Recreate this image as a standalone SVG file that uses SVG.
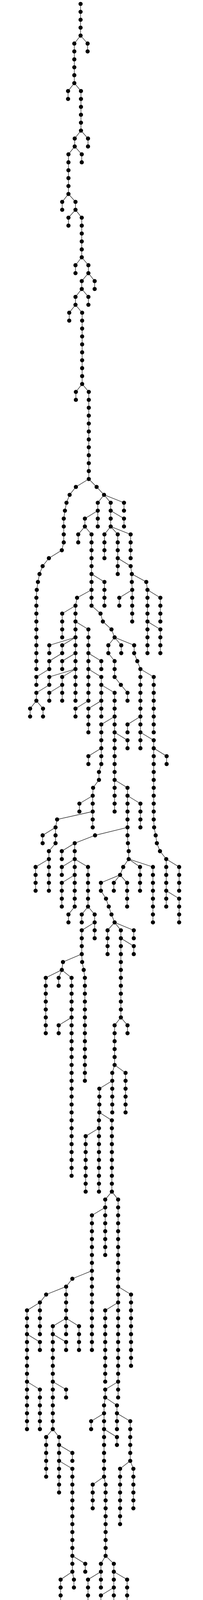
<svg xmlns="http://www.w3.org/2000/svg" width="519" height="6100" viewBox="0 0 519 6100">
<style>
polyline{fill:none;stroke:#222;stroke-width:1.3}
circle{fill:#000}
</style>
<rect width="519" height="6100" fill="#fff"/>
<g id="connectors">
<polyline points="206,10 206,30.3 206,50.5 206,70.8 206,91.1"/>
<polyline points="206,91.1 224,111.4 224,131.6"/>
<polyline points="206,91.1 190,111.4 190,131.6 190,151.9 190,172.2 190,192.4 190,212.7"/>
<polyline points="190,212.7 174,233 174,253.2"/>
<polyline points="190,212.7 207,233 207,253.2 207,273.5 207,293.8 207,314.1 207,334.3"/>
<polyline points="207,334.3 225,354.6 225,374.9"/>
<polyline points="207,334.3 191,354.6 191,374.9"/>
<polyline points="191,374.9 209,395.1 209,415.4"/>
<polyline points="191,374.9 175,395.1 175,415.4 175,435.7 175,455.9 175,476.2 175,496.5"/>
<polyline points="175,496.5 159,516.8 159,537"/>
<polyline points="175,496.5 193,516.8 193,537"/>
<polyline points="193,537 175,557.3 175,577.6"/>
<polyline points="193,537 209,557.3 209,577.6 209,597.8 209,618.1 209,638.4 209,658.6"/>
<polyline points="209,658.6 193,678.9 193,699.2"/>
<polyline points="209,658.6 226,678.9 226,699.2"/>
<polyline points="226,699.2 242,719.5 242,739.7"/>
<polyline points="226,699.2 209,719.5 209,739.7"/>
<polyline points="209,739.7 226,760 226,780.3"/>
<polyline points="209,739.7 193,760 193,780.3"/>
<polyline points="193,780.3 177,800.5 177,820.8"/>
<polyline points="193,780.3 210,800.5 210,820.8 210,841.1 210,861.3 210,881.6 210,901.9 210,922.2 210,942.4 210,962.7 210,983"/>
<polyline points="210,983 194,1003.2 194,1023.5"/>
<polyline points="210,983 227,1003.2 227,1023.5 227,1043.8 227,1064 227,1084.3 227,1104.6 227,1124.9 227,1145.1 227,1165.4 227,1185.7 227,1205.9 227,1226.2"/>
<polyline points="227,1226.2 194,1246.5 178,1266.7 170,1287 166,1307.3 163,1327.6 163,1347.8 163,1368.1 163,1388.4 158,1408.6 125,1428.9 109,1449.2 101,1469.4 97,1489.7 94,1510 93,1530.3 93,1550.5 93,1570.8 93,1591.1 93,1611.3 93,1631.6 93,1651.9 93,1672.1 93,1692.4 93,1712.7"/>
<polyline points="227,1226.2 247,1246.5 266,1266.7"/>
<polyline points="266,1266.7 250,1287 250,1307.3"/>
<polyline points="250,1307.3 217,1327.6 217,1347.8"/>
<polyline points="217,1347.8 200,1368.1 200,1388.4"/>
<polyline points="217,1347.8 234,1368.1 234,1388.4 234,1408.6 234,1428.9 234,1449.2 234,1469.4 234,1489.7 234,1510"/>
<polyline points="234,1469.4 267,1489.7 267,1510 267,1530.3 267,1550.5"/>
<polyline points="234,1510 197,1530.3 193,1550.5 193,1570.8 193,1591.1 193,1611.3 193,1631.6 193,1651.9 193,1672.1 193,1692.4 193,1712.7 193,1733 193,1753.2 193,1773.5 193,1793.8"/>
<polyline points="234,1510 234,1530.3 234,1550.5 257,1570.8 263,1591.1 285,1611.3 293,1631.6"/>
<polyline points="250,1307.3 250,1327.6 250,1347.8"/>
<polyline points="266,1266.7 283,1287 283,1307.3"/>
<polyline points="283,1307.3 317,1327.6 317,1347.8"/>
<polyline points="283,1307.3 283,1327.6 283,1347.8"/>
<polyline points="283,1347.8 267,1368.1 267,1388.4 267,1408.6 267,1428.9"/>
<polyline points="283,1347.8 301,1368.1 301,1388.4 301,1408.6 301,1428.9 301,1449.2 301,1469.4"/>
<polyline points="283,1347.8 334,1368.1 334,1388.4 334,1408.6 334,1428.9"/>
<polyline points="301,1428.9 334,1449.2 337,1469.4"/>
<polyline points="337,1469.4 374,1489.7 377,1510"/>
<polyline points="377,1510 410,1530.3 410,1550.5 410,1570.8 410,1591.1"/>
<polyline points="377,1510 377,1530.3 377,1550.5 377,1570.8 377,1591.1 377,1611.3 377,1631.6 377,1651.9 377,1672.1"/>
<polyline points="377,1591.1 410,1611.3 410,1631.6 410,1651.9 410,1672.1"/>
<polyline points="337,1469.4 337,1489.7 338,1510"/>
<polyline points="338,1510 305,1530.3 305,1550.5"/>
<polyline points="338,1510 338,1530.3 338,1550.5 338,1570.8 338,1591.1"/>
<polyline points="266,1266.7 317,1287 317,1307.3"/>
<polyline points="193,1550.5 159,1570.8 159,1591.1 159,1611.3 159,1631.6"/>
<polyline points="193,1591.1 226,1611.3 226,1631.6 226,1651.9 226,1672.1 226,1692.4 226,1712.7 226,1733 226,1753.2 226,1773.5 226,1793.8"/>
<polyline points="193,1631.6 126,1651.9 126,1672.1"/>
<polyline points="193,1631.6 159,1651.9 159,1672.1"/>
<polyline points="159,1672.1 126,1692.4 126,1712.7"/>
<polyline points="126,1712.7 93,1733 93,1753.2"/>
<polyline points="193,1672.1 159,1692.4 159,1712.7"/>
<polyline points="193,1712.7 126,1733 126,1753.2"/>
<polyline points="126,1753.2 93,1773.5 93,1793.8"/>
<polyline points="93,1793.8 77,1814 77,1834.3"/>
<polyline points="93,1793.8 110,1814 110,1834.3"/>
<polyline points="193,1712.7 159,1733 159,1753.2 159,1773.5 159,1793.8"/>
<polyline points="159,1753.2 126,1773.5 126,1793.8"/>
<polyline points="226,1672.1 259,1692.4 259,1712.7"/>
<polyline points="226,1712.7 259,1733 259,1753.2 259,1773.5 259,1793.8 259,1814 259,1834.3"/>
<polyline points="259,1753.2 293,1773.5 293,1793.8 293,1814 293,1834.3 293,1854.6 293,1874.8 293,1895.1 293,1915.4 293,1935.7 293,1955.9 293,1976.2 293,1996.5 293,2016.7 293,2037 293,2057.3 293,2077.5"/>
<polyline points="259,1793.8 226,1814 226,1834.3 226,1854.6 226,1874.8"/>
<polyline points="226,1793.8 193,1814 193,1834.3"/>
<polyline points="293,1834.3 259,1854.6 259,1874.8 259,1895.1 259,1915.4 259,1935.7 259,1955.9 253,1976.2 253,1996.5 238,2016.7 237,2037 237,2057.3 237,2077.5 237,2097.8 237,2118.1"/>
<polyline points="259,1915.4 226,1935.7 226,1955.9"/>
<polyline points="293,1874.8 326,1895.1 326,1915.4"/>
<polyline points="293,1996.5 326,2016.7 326,2037 326,2057.3 326,2077.5 326,2097.8 326,2118.1 326,2138.4 327,2158.6 329,2178.9 329,2199.2"/>
<polyline points="293,1631.6 277,1651.9 277,1672.1 293,1692.4 293,1712.7 293,1733 309,1753.2 326,1773.5 326,1793.8"/>
<polyline points="293,1631.6 310,1651.9 310,1672.1"/>
<polyline points="293,1631.6 343,1651.9 343,1672.1 351,1692.4 359,1712.7"/>
<polyline points="359,1712.7 393,1733 393,1753.2 393,1773.5 393,1793.8 393,1814 393,1834.3 393,1854.6 393,1874.8"/>
<polyline points="359,1712.7 359,1733 359,1753.2 359,1773.5 359,1793.8 359,1814 359,1834.3 359,1854.6 359,1874.8 359,1895.1 359,1915.4"/>
<polyline points="359,1834.3 326,1854.6 326,1874.8"/>
<polyline points="359,1874.8 393,1895.1 393,1915.4 393,1935.7 393,1955.9 393,1976.2 393,1996.5 393,2016.7 393,2037 393,2057.3 393,2077.5 393,2097.8 394,2118.1 398,2138.4 401,2158.6 409,2178.9 425,2199.2 425,2219.4 425,2239.7 425,2260 425,2280.2 425,2300.5 425,2320.8"/>
<polyline points="393,1915.4 426,1935.7 426,1955.9"/>
<polyline points="237,2037 203,2057.3 203,2077.5"/>
<polyline points="237,2077.5 146,2097.8 142,2118.1"/>
<polyline points="142,2118.1 109,2138.4 109,2158.6"/>
<polyline points="142,2118.1 142,2138.4 142,2158.6 125,2178.9 125,2199.2"/>
<polyline points="125,2199.2 91,2219.4 91,2239.7 91,2260 91,2280.2"/>
<polyline points="125,2199.2 125,2219.4 125,2239.7 125,2260 125,2280.2"/>
<polyline points="326,2037 359,2057.3 359,2077.5 359,2097.8 359,2118.1"/>
<polyline points="326,2118.1 243,2138.4 191,2158.6"/>
<polyline points="191,2158.6 158,2178.9 158,2199.2"/>
<polyline points="191,2158.6 191,2178.9 191,2199.2"/>
<polyline points="191,2199.2 158,2219.4 158,2239.7"/>
<polyline points="191,2199.2 191,2219.4 191,2239.7 191,2260 191,2280.2 191,2300.5 191,2320.8 175,2341.1 175,2361.3"/>
<polyline points="191,2239.7 158,2260 158,2280.2 158,2300.5 158,2320.8"/>
<polyline points="191,2199.2 225,2219.4 225,2239.7 225,2260 225,2280.2 225,2300.5 225,2320.8"/>
<polyline points="225,2320.8 209,2341.1 209,2361.3"/>
<polyline points="225,2320.8 242,2341.1 242,2361.3 242,2381.6 242,2401.9"/>
<polyline points="242,2361.3 209,2381.6 209,2401.9 209,2422.1 209,2442.4 210,2462.7 214,2482.9 217,2503.2 217,2523.5 217,2543.8 217,2564 217,2584.3 217,2604.6 217,2624.8 217,2645.1 217,2665.4 217,2685.6 217,2705.9 217,2726.2 217,2746.5 217,2766.7"/>
<polyline points="209,2442.4 161,2462.7 158,2482.9"/>
<polyline points="158,2482.9 117,2503.2 117,2523.5 117,2543.8 117,2564 117,2584.3 117,2604.6 117,2624.8 117,2645.1"/>
<polyline points="158,2482.9 150,2503.2 150,2523.5"/>
<polyline points="158,2482.9 183,2503.2 183,2523.5 183,2543.8 183,2564 183,2584.3 183,2604.6 183,2624.8 183,2645.1 183,2665.4 183,2685.6 183,2705.9 183,2726.2 183,2746.5 183,2766.7 183,2787 183,2807.3 183,2827.5 183,2847.8 183,2868.1 183,2888.3 183,2908.6 183,2928.9 183,2949.2 183,2969.4 183,2989.7 183,3010"/>
<polyline points="183,2604.6 150,2624.8 150,2645.1"/>
<polyline points="329,2199.2 315,2219.4 307,2239.7"/>
<polyline points="307,2239.7 258,2260 258,2280.2 271,2300.5 278,2320.8 285,2341.1 293,2361.3"/>
<polyline points="293,2361.3 275,2381.6 275,2401.9 275,2422.1 275,2442.4"/>
<polyline points="293,2361.3 309,2381.6 309,2401.9 309,2422.1 309,2442.4 309,2462.7 309,2482.9 309,2503.2 309,2523.5 309,2543.8 309,2564 309,2584.3 309,2604.6"/>
<polyline points="309,2401.9 342,2422.1 342,2442.4"/>
<polyline points="293,2361.3 342,2381.6 342,2401.9"/>
<polyline points="307,2239.7 291,2260 291,2280.2"/>
<polyline points="307,2239.7 325,2260 325,2280.2 325,2300.5 325,2320.8"/>
<polyline points="329,2199.2 358,2219.4 358,2239.7 358,2260 358,2280.2"/>
<polyline points="329,2199.2 391,2219.4 391,2239.7 391,2260 391,2280.2 391,2300.5 391,2320.8 391,2341.1 391,2361.3"/>
<polyline points="425,2199.2 458,2219.4 458,2239.7 458,2260 458,2280.2"/>
<polyline points="425,2280.2 458,2300.5 458,2320.8 458,2341.1 458,2361.3"/>
<polyline points="309,2604.6 293,2624.8 293,2645.1 293,2665.4 293,2685.6 293,2705.9 293,2726.2"/>
<polyline points="309,2604.6 326,2624.8 326,2645.1"/>
<polyline points="293,2726.2 287,2746.5 287,2766.7 287,2787 287,2807.3 287,2827.5 287,2847.8"/>
<polyline points="293,2726.2 321,2746.5 321,2766.7 321,2787 321,2807.3 321,2827.5 321,2847.8"/>
<polyline points="287,2766.7 254,2787 254,2807.3 254,2827.5 254,2847.8 253,2868.1 253,2888.3 253,2908.6 253,2928.9 253,2949.2 253,2969.4 253,2989.7 253,3010 253,3030.2 253,3050.5"/>
<polyline points="254,2847.8 286,2868.1 286,2888.3 286,2908.6 286,2928.9 286,2949.2 286,2969.4 286,2989.7 286,3010 286,3030.2 286,3050.5"/>
<polyline points="253,2888.3 219,2908.6 219,2928.9 219,2949.2 219,2969.4 219,2989.7 219,3010 219,3030.2 219,3050.5"/>
<polyline points="286,3050.5 269,3070.8 269,3091 269,3111.3 269,3131.6 269,3151.9 269,3172.1 269,3192.4 269,3212.7"/>
<polyline points="286,3050.5 302,3070.8 302,3091 302,3111.3 302,3131.6 302,3151.9 302,3172.1 302,3192.4 302,3212.7 302,3232.9 302,3253.2 302,3273.5 302,3293.7 302,3314 302,3334.3 302,3354.6 302,3374.8 302,3395.1 302,3415.4 302,3435.6 302,3455.9 302,3476.2 302,3496.4 302,3516.7 302,3537 302,3557.3 302,3577.5"/>
<polyline points="269,3091 235,3111.3 235,3131.6 235,3151.9 235,3172.1 235,3192.4 235,3212.7 235,3232.9 235,3253.2 235,3273.5 235,3293.7 235,3314 235,3334.3 235,3354.6 235,3374.8 235,3395.1 235,3415.4 235,3435.6 235,3455.9"/>
<polyline points="235,3253.2 185,3273.5 169,3293.7 169,3314 169,3334.3 169,3354.6 169,3374.8 169,3395.1 169,3415.4"/>
<polyline points="169,3293.7 118,3314 102,3334.3 102,3354.6 102,3374.8 102,3395.1 102,3415.4"/>
<polyline points="102,3334.3 69,3354.6 69,3374.8 69,3395.1 69,3415.4 69,3435.6 69,3455.9 69,3476.2 69,3496.4 69,3516.7 69,3537 69,3557.3 69,3577.5 69,3597.8 69,3618.1 69,3638.3 69,3658.6"/>
<polyline points="69,3415.4 102,3435.6 102,3455.9"/>
<polyline points="69,3537 102,3557.3 102,3577.5 102,3597.8 102,3618.1 102,3638.3 102,3658.6"/>
<polyline points="169,3374.8 135,3395.1 135,3415.4 135,3435.6 135,3455.9 135,3476.2 135,3496.4 135,3516.7 135,3537 135,3557.3 135,3577.5 135,3597.8 135,3618.1 135,3638.3 135,3658.6"/>
<polyline points="135,3415.4 169,3435.6 169,3455.9"/>
<polyline points="135,3537 169,3557.3 169,3577.5"/>
<polyline points="169,3374.8 202,3395.1 202,3415.4 202,3435.6 202,3455.9"/>
<polyline points="302,3293.7 335,3314 335,3334.3 335,3354.6 335,3374.8 335,3395.1 335,3415.4 335,3435.6 335,3455.9 335,3476.2 335,3496.4"/>
<polyline points="302,3334.3 269,3354.6 269,3374.8 269,3395.1 269,3415.4 269,3435.6 269,3455.9 269,3476.2 269,3496.4 269,3516.7 269,3537"/>
<polyline points="135,3658.6 118,3678.9 118,3699.1 118,3719.4 118,3739.7 118,3760 118,3780.2"/>
<polyline points="135,3658.6 151,3678.9 151,3699.1 151,3719.4 151,3739.7 151,3760 151,3780.2 151,3800.5 151,3820.8"/>
<polyline points="151,3699.1 185,3719.4 185,3739.7"/>
<polyline points="151,3739.7 185,3760 185,3780.2 185,3800.5 185,3820.8 185,3841 185,3861.3 185,3881.6 185,3901.8 185,3922.1 185,3942.4 185,3962.7 185,3982.9 185,4003.2 185,4023.5"/>
<polyline points="185,3982.9 218,4003.2 218,4023.5"/>
<polyline points="185,4023.5 155,4043.7 155,4064 155,4084.3 155,4104.5 155,4124.8 155,4145.1"/>
<polyline points="155,4145.1 139,4165.4 139,4185.6 139,4205.9 139,4226.2 139,4246.4 139,4266.7"/>
<polyline points="155,4145.1 173,4165.4 173,4185.6"/>
<polyline points="185,4023.5 189,4043.7 189,4064"/>
<polyline points="302,3537 269,3557.3 269,3577.5"/>
<polyline points="269,3577.5 299,3597.8 299,3618.1 299,3638.3 299,3658.6"/>
<polyline points="269,3577.5 266,3597.8 266,3618.1 266,3638.3 266,3658.6 266,3678.9 266,3699.1 266,3719.4 266,3739.7 266,3760 266,3780.2 270,3800.5 270,3820.8 270,3841 270,3861.3 270,3881.6 270,3901.8 270,3922.1 270,3942.4 270,3962.7 270,3982.9"/>
<polyline points="266,3618.1 233,3638.3 233,3658.6"/>
<polyline points="266,3658.6 299,3678.9 299,3699.1"/>
<polyline points="266,3780.2 237,3800.5 237,3820.8 237,3841 237,3861.3"/>
<polyline points="299,3618.1 333,3638.3 333,3658.6 333,3678.9 333,3699.1 333,3719.4 333,3739.7"/>
<polyline points="333,3739.7 307,3760 307,3780.2 307,3800.5 307,3820.8 307,3841 307,3861.3 307,3881.6 307,3901.8"/>
<polyline points="333,3739.7 341,3760 341,3780.2 341,3800.5 341,3820.8 341,3841 341,3861.3"/>
<polyline points="270,3982.9 258,4003.2 258,4023.5 258,4043.7 258,4064"/>
<polyline points="258,4023.5 225,4043.7 225,4064 225,4084.3 225,4104.5 225,4124.8 225,4145.1 225,4165.4 225,4185.6 225,4205.9 225,4226.2 225,4246.4 225,4266.7"/>
<polyline points="270,3982.9 291,4003.2 291,4023.5 291,4043.7 291,4064 291,4084.3 291,4104.5 291,4124.8 291,4145.1 291,4165.4 291,4185.6 291,4205.9 291,4226.2 291,4246.4 291,4266.7 291,4287 291,4307.2"/>
<polyline points="291,4023.5 325,4043.7 325,4064 325,4084.3 325,4104.5 325,4124.8 325,4145.1"/>
<polyline points="291,4064 258,4084.3 258,4104.5"/>
<polyline points="291,4104.5 258,4124.8 258,4145.1"/>
<polyline points="291,4307.2 275,4327.5 275,4347.8"/>
<polyline points="291,4307.2 309,4327.5 309,4347.8"/>
<polyline points="275,4347.8 259,4368.1 259,4388.3"/>
<polyline points="275,4347.8 297,4368.1 301,4388.3 310,4408.6 310,4428.9 310,4449.1 310,4469.4"/>
<polyline points="259,4388.3 210,4408.6 210,4428.9 210,4449.1 210,4469.4 210,4489.7 210,4509.9"/>
<polyline points="259,4388.3 243,4408.6 243,4428.9"/>
<polyline points="259,4388.3 277,4408.6 277,4428.9 277,4449.1 277,4469.4 277,4489.7 277,4509.9 277,4530.2 277,4550.5 277,4570.8 277,4591 277,4611.3 277,4631.6"/>
<polyline points="210,4509.9 202,4530.2 202,4550.5"/>
<polyline points="210,4509.9 235,4530.2 235,4550.5"/>
<polyline points="202,4550.5 194,4570.8 194,4591 194,4611.3 194,4631.6 194,4651.8 194,4672.1"/>
<polyline points="202,4550.5 227,4570.8 227,4591"/>
<polyline points="194,4672.1 178,4692.4 178,4712.6"/>
<polyline points="194,4672.1 211,4692.4 211,4712.6"/>
<polyline points="211,4712.6 194,4732.9 194,4753.2"/>
<polyline points="211,4712.6 227,4732.9 227,4753.2"/>
<polyline points="227,4753.2 210,4773.5 210,4793.7 210,4814 210,4834.3 210,4854.5 210,4874.8 210,4895.1 210,4915.3 210,4935.6 210,4955.9"/>
<polyline points="227,4753.2 243,4773.5 243,4793.7 243,4814 243,4834.3 243,4854.5 243,4874.8 243,4895.1 243,4915.3 243,4935.6 243,4955.9 243,4976.2 243,4996.4 243,5016.7 243,5037 243,5057.2 243,5077.5"/>
<polyline points="210,4793.7 177,4814 177,4834.3"/>
<polyline points="210,4915.3 177,4935.6 177,4955.9 177,4976.2 177,4996.4 177,5016.7 177,5037 177,5057.2 177,5077.5 177,5097.8 177,5118 177,5138.3 177,5158.6"/>
<polyline points="243,4793.7 277,4814 277,4834.3 277,4854.5 277,4874.8 277,4895.1 277,4915.3 277,4935.6 277,4955.9"/>
<polyline points="243,4955.9 277,4976.2 277,4996.4 277,5016.7 277,5037 277,5057.2 277,5077.5 277,5097.8 277,5118 277,5138.3 277,5158.6 277,5178.9 277,5199.1"/>
<polyline points="243,4996.4 210,5016.7 210,5037"/>
<polyline points="277,5037 334,5057.2 340,5077.5 353,5097.8 359,5118 359,5138.3 359,5158.6 359,5178.9 359,5199.1"/>
<polyline points="177,4955.9 143,4976.2 143,4996.4 143,5016.7 143,5037 143,5057.2 143,5077.5"/>
<polyline points="143,4996.4 110,5016.7 110,5037 110,5057.2 110,5077.5 110,5097.8 110,5118 110,5138.3 110,5158.6 110,5178.9 110,5199.1 110,5219.4 110,5239.7 110,5259.9 110,5280.2 110,5300.5 110,5320.7 110,5341 110,5361.3 110,5381.6 110,5401.8"/>
<polyline points="110,5077.5 77,5097.8 77,5118 77,5138.3 77,5158.6 77,5178.9 77,5199.1"/>
<polyline points="77,5118 43,5138.3 43,5158.6 43,5178.9 43,5199.1 43,5219.4 43,5239.7 43,5259.9 43,5280.2"/>
<polyline points="177,5077.5 210,5097.8 210,5118 210,5138.3 210,5158.6 210,5178.9 210,5199.1 210,5219.4 210,5239.7"/>
<polyline points="177,5118 143,5138.3 143,5158.6 143,5178.9 143,5199.1 143,5219.4 143,5239.7 143,5259.9 143,5280.2 143,5300.5 143,5320.7 143,5341 143,5361.3 143,5381.6 143,5401.8 102,5422.1 102,5442.4 101,5462.6 98,5482.9 93,5503.2 93,5523.4 93,5543.7 93,5564 93,5584.3 93,5604.5 93,5624.8 93,5645.1 93,5665.3 93,5685.6"/>
<polyline points="143,5280.2 177,5300.5 177,5320.7 177,5341 177,5361.3 226,5381.6 247,5401.8 247,5422.1 249,5442.4"/>
<polyline points="177,5320.7 210,5341 210,5361.3"/>
<polyline points="249,5442.4 226,5462.6 226,5482.9 226,5503.2 226,5523.4 226,5543.7 226,5564 226,5584.3 226,5604.5 226,5624.8 226,5645.1 226,5665.3 226,5685.6"/>
<polyline points="249,5442.4 259,5462.6 259,5482.9 259,5503.2 259,5523.4 259,5543.7 259,5564 259,5584.3 259,5604.5 259,5624.8 259,5645.1 259,5665.3 259,5685.6 259,5705.9 259,5726.1"/>
<polyline points="249,5442.4 293,5462.6 293,5482.9"/>
<polyline points="226,5523.4 193,5543.7 193,5564 193,5584.3 193,5604.5 193,5624.8 193,5645.1"/>
<polyline points="277,5118 243,5138.3 243,5158.6 243,5178.9 243,5199.1"/>
<polyline points="277,5158.6 310,5178.9 310,5199.1 310,5219.4 310,5239.7 310,5259.9 310,5280.2 310,5300.5 310,5320.7 310,5341 310,5361.3 310,5381.6 310,5401.8"/>
<polyline points="277,5199.1 243,5219.4 243,5239.7 243,5259.9 243,5280.2 243,5300.5 243,5320.7 243,5341 243,5361.3"/>
<polyline points="243,5320.7 277,5341 277,5361.3"/>
<polyline points="310,5199.1 277,5219.4 277,5239.7"/>
<polyline points="310,5320.7 343,5341 343,5361.3"/>
<polyline points="359,5118 394,5138.3 398,5158.6 406,5178.9 410,5199.1 410,5219.4 410,5239.7 410,5259.9 410,5280.2"/>
<polyline points="359,5199.1 343,5219.4 343,5239.7 343,5259.9 343,5280.2"/>
<polyline points="359,5199.1 377,5219.4 377,5239.7 377,5259.9 377,5280.2"/>
<polyline points="410,5239.7 443,5259.9 443,5280.2 443,5300.5 443,5320.7 443,5341 443,5361.3 443,5381.6 443,5401.8 443,5422.1 443,5442.4"/>
<polyline points="443,5442.4 410,5462.6 410,5482.9"/>
<polyline points="443,5442.4 443,5462.6 443,5482.9"/>
<polyline points="443,5442.4 477,5462.6 477,5482.9"/>
<polyline points="477,5482.9 459,5503.2 459,5523.4"/>
<polyline points="477,5482.9 493,5503.2 493,5523.4"/>
<polyline points="459,5523.4 442,5543.7 442,5564"/>
<polyline points="459,5523.4 475,5543.7 475,5564 475,5584.3 475,5604.5 475,5624.8 475,5645.1 475,5665.3 475,5685.6 475,5705.9 475,5726.1"/>
<polyline points="93,5564 59,5584.3 59,5604.5"/>
<polyline points="93,5604.5 43,5624.8 43,5645.1 43,5665.3 43,5685.6"/>
<polyline points="43,5645.1 10,5665.3 10,5685.6"/>
<polyline points="43,5685.6 26,5705.9 26,5726.1"/>
<polyline points="93,5685.6 59,5705.9 59,5726.1 59,5746.4 59,5766.7 59,5787 59,5807.2"/>
<polyline points="93,5685.6 93,5705.9 93,5726.1"/>
<polyline points="93,5685.6 126,5705.9 126,5726.1 126,5746.4 126,5766.7"/>
<polyline points="126,5726.1 93,5746.4 93,5766.7 93,5787 93,5807.2"/>
<polyline points="59,5807.2 43,5827.5 43,5847.8"/>
<polyline points="59,5807.2 77,5827.5 77,5847.8"/>
<polyline points="43,5847.8 27,5868 27,5888.3"/>
<polyline points="43,5847.8 61,5868 61,5888.3"/>
<polyline points="27,5888.3 11,5908.6 11,5928.8"/>
<polyline points="27,5888.3 45,5908.6 45,5928.8 45,5949.1 45,5969.4 45,5989.7 45,6009.9"/>
<polyline points="45,6009.9 29,6030.2 29,6050.5 29,6070.7 29,6091"/>
<polyline points="45,6009.9 62,6030.2 62,6050.5"/>
<polyline points="193,5564 159,5584.3 159,5604.5"/>
<polyline points="193,5604.5 159,5624.8 159,5645.1 159,5665.3 159,5685.6 159,5705.9 159,5726.1 159,5746.4 159,5766.7 159,5787 159,5807.2 159,5827.5 159,5847.8"/>
<polyline points="159,5645.1 193,5665.3 193,5685.6"/>
<polyline points="475,5564 442,5584.3 442,5604.5 442,5624.8 442,5645.1 442,5665.3 442,5685.6"/>
<polyline points="475,5564 509,5584.3 509,5604.5"/>
<polyline points="475,5604.5 509,5624.8 509,5645.1 509,5665.3 509,5685.6 509,5705.9 509,5726.1 509,5746.4 509,5766.7"/>
</g>
<g id="nodes">
<g id="n1"><circle cx="206" cy="10" r="5.3"/></g>
<g id="n2"><circle cx="206" cy="30.3" r="5.3"/></g>
<g id="n3"><circle cx="206" cy="50.5" r="5.3"/></g>
<g id="n4"><circle cx="206" cy="70.8" r="5.3"/></g>
<g id="n5"><circle cx="206" cy="91.1" r="5.3"/></g>
<g id="n6"><circle cx="224" cy="111.4" r="5.3"/></g>
<g id="n7"><circle cx="224" cy="131.6" r="5.3"/></g>
<g id="n8"><circle cx="190" cy="111.4" r="5.3"/></g>
<g id="n9"><circle cx="190" cy="131.6" r="5.3"/></g>
<g id="n10"><circle cx="190" cy="151.9" r="5.3"/></g>
<g id="n11"><circle cx="190" cy="172.2" r="5.3"/></g>
<g id="n12"><circle cx="190" cy="192.4" r="5.3"/></g>
<g id="n13"><circle cx="190" cy="212.7" r="5.3"/></g>
<g id="n14"><circle cx="174" cy="233" r="5.3"/></g>
<g id="n15"><circle cx="174" cy="253.2" r="5.3"/></g>
<g id="n16"><circle cx="207" cy="233" r="5.3"/></g>
<g id="n17"><circle cx="207" cy="253.2" r="5.3"/></g>
<g id="n18"><circle cx="207" cy="273.5" r="5.3"/></g>
<g id="n19"><circle cx="207" cy="293.8" r="5.3"/></g>
<g id="n20"><circle cx="207" cy="314.1" r="5.3"/></g>
<g id="n21"><circle cx="207" cy="334.3" r="5.3"/></g>
<g id="n22"><circle cx="225" cy="354.6" r="5.3"/></g>
<g id="n23"><circle cx="225" cy="374.9" r="5.3"/></g>
<g id="n24"><circle cx="191" cy="354.6" r="5.3"/></g>
<g id="n25"><circle cx="191" cy="374.9" r="5.3"/></g>
<g id="n26"><circle cx="209" cy="395.1" r="5.3"/></g>
<g id="n27"><circle cx="209" cy="415.4" r="5.3"/></g>
<g id="n28"><circle cx="175" cy="395.1" r="5.3"/></g>
<g id="n29"><circle cx="175" cy="415.4" r="5.3"/></g>
<g id="n30"><circle cx="175" cy="435.7" r="5.3"/></g>
<g id="n31"><circle cx="175" cy="455.9" r="5.3"/></g>
<g id="n32"><circle cx="175" cy="476.2" r="5.3"/></g>
<g id="n33"><circle cx="175" cy="496.5" r="5.3"/></g>
<g id="n34"><circle cx="159" cy="516.8" r="5.3"/></g>
<g id="n35"><circle cx="159" cy="537" r="5.3"/></g>
<g id="n36"><circle cx="193" cy="516.8" r="5.3"/></g>
<g id="n37"><circle cx="193" cy="537" r="5.3"/></g>
<g id="n38"><circle cx="175" cy="557.3" r="5.3"/></g>
<g id="n39"><circle cx="175" cy="577.6" r="5.3"/></g>
<g id="n40"><circle cx="209" cy="557.3" r="5.3"/></g>
<g id="n41"><circle cx="209" cy="577.6" r="5.3"/></g>
<g id="n42"><circle cx="209" cy="597.8" r="5.3"/></g>
<g id="n43"><circle cx="209" cy="618.1" r="5.3"/></g>
<g id="n44"><circle cx="209" cy="638.4" r="5.3"/></g>
<g id="n45"><circle cx="209" cy="658.6" r="5.3"/></g>
<g id="n46"><circle cx="193" cy="678.9" r="5.3"/></g>
<g id="n47"><circle cx="193" cy="699.2" r="5.3"/></g>
<g id="n48"><circle cx="226" cy="678.9" r="5.3"/></g>
<g id="n49"><circle cx="226" cy="699.2" r="5.3"/></g>
<g id="n50"><circle cx="242" cy="719.5" r="5.3"/></g>
<g id="n51"><circle cx="242" cy="739.7" r="5.3"/></g>
<g id="n52"><circle cx="209" cy="719.5" r="5.3"/></g>
<g id="n53"><circle cx="209" cy="739.7" r="5.3"/></g>
<g id="n54"><circle cx="226" cy="760" r="5.3"/></g>
<g id="n55"><circle cx="226" cy="780.3" r="5.3"/></g>
<g id="n56"><circle cx="193" cy="760" r="5.3"/></g>
<g id="n57"><circle cx="193" cy="780.3" r="5.3"/></g>
<g id="n58"><circle cx="177" cy="800.5" r="5.3"/></g>
<g id="n59"><circle cx="177" cy="820.8" r="5.3"/></g>
<g id="n60"><circle cx="210" cy="800.5" r="5.3"/></g>
<g id="n61"><circle cx="210" cy="820.8" r="5.3"/></g>
<g id="n62"><circle cx="210" cy="841.1" r="5.3"/></g>
<g id="n63"><circle cx="210" cy="861.3" r="5.3"/></g>
<g id="n64"><circle cx="210" cy="881.6" r="5.3"/></g>
<g id="n65"><circle cx="210" cy="901.9" r="5.3"/></g>
<g id="n66"><circle cx="210" cy="922.2" r="5.3"/></g>
<g id="n67"><circle cx="210" cy="942.4" r="5.3"/></g>
<g id="n68"><circle cx="210" cy="962.7" r="5.3"/></g>
<g id="n69"><circle cx="210" cy="983" r="5.3"/></g>
<g id="n70"><circle cx="194" cy="1003.2" r="5.3"/></g>
<g id="n71"><circle cx="194" cy="1023.5" r="5.3"/></g>
<g id="n72"><circle cx="227" cy="1003.2" r="5.3"/></g>
<g id="n73"><circle cx="227" cy="1023.5" r="5.3"/></g>
<g id="n74"><circle cx="227" cy="1043.8" r="5.3"/></g>
<g id="n75"><circle cx="227" cy="1064" r="5.3"/></g>
<g id="n76"><circle cx="227" cy="1084.3" r="5.3"/></g>
<g id="n77"><circle cx="227" cy="1104.6" r="5.3"/></g>
<g id="n78"><circle cx="227" cy="1124.9" r="5.3"/></g>
<g id="n79"><circle cx="227" cy="1145.1" r="5.3"/></g>
<g id="n80"><circle cx="227" cy="1165.4" r="5.3"/></g>
<g id="n81"><circle cx="227" cy="1185.7" r="5.3"/></g>
<g id="n82"><circle cx="227" cy="1205.9" r="5.3"/></g>
<g id="n83"><circle cx="227" cy="1226.2" r="5.3"/></g>
<g id="n84"><circle cx="194" cy="1246.5" r="5.3"/></g>
<g id="n85"><circle cx="178" cy="1266.7" r="5.3"/></g>
<g id="n86"><circle cx="170" cy="1287" r="5.3"/></g>
<g id="n87"><circle cx="166" cy="1307.3" r="5.3"/></g>
<g id="n88"><circle cx="163" cy="1327.6" r="5.3"/></g>
<g id="n89"><circle cx="163" cy="1347.8" r="5.3"/></g>
<g id="n90"><circle cx="163" cy="1368.1" r="5.3"/></g>
<g id="n91"><circle cx="163" cy="1388.4" r="5.3"/></g>
<g id="n92"><circle cx="158" cy="1408.6" r="5.3"/></g>
<g id="n93"><circle cx="125" cy="1428.9" r="5.3"/></g>
<g id="n94"><circle cx="109" cy="1449.2" r="5.3"/></g>
<g id="n95"><circle cx="101" cy="1469.4" r="5.3"/></g>
<g id="n96"><circle cx="97" cy="1489.7" r="5.3"/></g>
<g id="n97"><circle cx="94" cy="1510" r="5.3"/></g>
<g id="n98"><circle cx="93" cy="1530.3" r="5.3"/></g>
<g id="n99"><circle cx="93" cy="1550.5" r="5.3"/></g>
<g id="n100"><circle cx="93" cy="1570.8" r="5.3"/></g>
<g id="n101"><circle cx="93" cy="1591.1" r="5.3"/></g>
<g id="n102"><circle cx="93" cy="1611.3" r="5.3"/></g>
<g id="n103"><circle cx="93" cy="1631.6" r="5.3"/></g>
<g id="n104"><circle cx="93" cy="1651.9" r="5.3"/></g>
<g id="n105"><circle cx="93" cy="1672.1" r="5.3"/></g>
<g id="n106"><circle cx="93" cy="1692.4" r="5.3"/></g>
<g id="n107"><circle cx="93" cy="1712.7" r="5.3"/></g>
<g id="n108"><circle cx="247" cy="1246.5" r="5.3"/></g>
<g id="n109"><circle cx="266" cy="1266.7" r="5.3"/></g>
<g id="n110"><circle cx="250" cy="1287" r="5.3"/></g>
<g id="n111"><circle cx="250" cy="1307.3" r="5.3"/></g>
<g id="n112"><circle cx="217" cy="1327.6" r="5.3"/></g>
<g id="n113"><circle cx="217" cy="1347.8" r="5.3"/></g>
<g id="n114"><circle cx="200" cy="1368.1" r="5.3"/></g>
<g id="n115"><circle cx="200" cy="1388.4" r="5.3"/></g>
<g id="n116"><circle cx="234" cy="1368.1" r="5.3"/></g>
<g id="n117"><circle cx="234" cy="1388.4" r="5.3"/></g>
<g id="n118"><circle cx="234" cy="1408.6" r="5.3"/></g>
<g id="n119"><circle cx="234" cy="1428.9" r="5.3"/></g>
<g id="n120"><circle cx="234" cy="1449.2" r="5.3"/></g>
<g id="n121"><circle cx="234" cy="1469.4" r="5.3"/></g>
<g id="n122"><circle cx="234" cy="1489.7" r="5.3"/></g>
<g id="n123"><circle cx="234" cy="1510" r="5.3"/></g>
<g id="n124"><circle cx="267" cy="1489.7" r="5.3"/></g>
<g id="n125"><circle cx="267" cy="1510" r="5.3"/></g>
<g id="n126"><circle cx="267" cy="1530.3" r="5.3"/></g>
<g id="n127"><circle cx="267" cy="1550.5" r="5.3"/></g>
<g id="n128"><circle cx="197" cy="1530.3" r="5.3"/></g>
<g id="n129"><circle cx="193" cy="1550.5" r="5.3"/></g>
<g id="n130"><circle cx="193" cy="1570.8" r="5.3"/></g>
<g id="n131"><circle cx="193" cy="1591.1" r="5.3"/></g>
<g id="n132"><circle cx="193" cy="1611.3" r="5.3"/></g>
<g id="n133"><circle cx="193" cy="1631.6" r="5.3"/></g>
<g id="n134"><circle cx="193" cy="1651.9" r="5.3"/></g>
<g id="n135"><circle cx="193" cy="1672.1" r="5.3"/></g>
<g id="n136"><circle cx="193" cy="1692.4" r="5.3"/></g>
<g id="n137"><circle cx="193" cy="1712.7" r="5.3"/></g>
<g id="n138"><circle cx="193" cy="1733" r="5.3"/></g>
<g id="n139"><circle cx="193" cy="1753.2" r="5.3"/></g>
<g id="n140"><circle cx="193" cy="1773.5" r="5.3"/></g>
<g id="n141"><circle cx="193" cy="1793.8" r="5.3"/></g>
<g id="n142"><circle cx="234" cy="1530.3" r="5.3"/></g>
<g id="n143"><circle cx="234" cy="1550.5" r="5.3"/></g>
<g id="n144"><circle cx="257" cy="1570.8" r="5.3"/></g>
<g id="n145"><circle cx="263" cy="1591.1" r="5.3"/></g>
<g id="n146"><circle cx="285" cy="1611.3" r="5.3"/></g>
<g id="n147"><circle cx="293" cy="1631.6" r="5.3"/></g>
<g id="n148"><circle cx="250" cy="1327.6" r="5.3"/></g>
<g id="n149"><circle cx="250" cy="1347.8" r="5.3"/></g>
<g id="n150"><circle cx="283" cy="1287" r="5.3"/></g>
<g id="n151"><circle cx="283" cy="1307.3" r="5.3"/></g>
<g id="n152"><circle cx="317" cy="1327.6" r="5.3"/></g>
<g id="n153"><circle cx="317" cy="1347.8" r="5.3"/></g>
<g id="n154"><circle cx="283" cy="1327.6" r="5.3"/></g>
<g id="n155"><circle cx="283" cy="1347.8" r="5.3"/></g>
<g id="n156"><circle cx="267" cy="1368.1" r="5.3"/></g>
<g id="n157"><circle cx="267" cy="1388.4" r="5.3"/></g>
<g id="n158"><circle cx="267" cy="1408.6" r="5.3"/></g>
<g id="n159"><circle cx="267" cy="1428.9" r="5.3"/></g>
<g id="n160"><circle cx="301" cy="1368.1" r="5.3"/></g>
<g id="n161"><circle cx="301" cy="1388.4" r="5.3"/></g>
<g id="n162"><circle cx="301" cy="1408.6" r="5.3"/></g>
<g id="n163"><circle cx="301" cy="1428.9" r="5.3"/></g>
<g id="n164"><circle cx="301" cy="1449.2" r="5.3"/></g>
<g id="n165"><circle cx="301" cy="1469.4" r="5.3"/></g>
<g id="n166"><circle cx="334" cy="1368.1" r="5.3"/></g>
<g id="n167"><circle cx="334" cy="1388.4" r="5.3"/></g>
<g id="n168"><circle cx="334" cy="1408.6" r="5.3"/></g>
<g id="n169"><circle cx="334" cy="1428.9" r="5.3"/></g>
<g id="n170"><circle cx="334" cy="1449.2" r="5.3"/></g>
<g id="n171"><circle cx="337" cy="1469.4" r="5.3"/></g>
<g id="n172"><circle cx="374" cy="1489.7" r="5.3"/></g>
<g id="n173"><circle cx="377" cy="1510" r="5.3"/></g>
<g id="n174"><circle cx="410" cy="1530.3" r="5.3"/></g>
<g id="n175"><circle cx="410" cy="1550.5" r="5.3"/></g>
<g id="n176"><circle cx="410" cy="1570.8" r="5.3"/></g>
<g id="n177"><circle cx="410" cy="1591.1" r="5.3"/></g>
<g id="n178"><circle cx="377" cy="1530.3" r="5.3"/></g>
<g id="n179"><circle cx="377" cy="1550.5" r="5.3"/></g>
<g id="n180"><circle cx="377" cy="1570.8" r="5.3"/></g>
<g id="n181"><circle cx="377" cy="1591.1" r="5.3"/></g>
<g id="n182"><circle cx="377" cy="1611.3" r="5.3"/></g>
<g id="n183"><circle cx="377" cy="1631.6" r="5.3"/></g>
<g id="n184"><circle cx="377" cy="1651.9" r="5.3"/></g>
<g id="n185"><circle cx="377" cy="1672.1" r="5.3"/></g>
<g id="n186"><circle cx="410" cy="1611.3" r="5.3"/></g>
<g id="n187"><circle cx="410" cy="1631.6" r="5.3"/></g>
<g id="n188"><circle cx="410" cy="1651.9" r="5.3"/></g>
<g id="n189"><circle cx="410" cy="1672.1" r="5.3"/></g>
<g id="n190"><circle cx="337" cy="1489.7" r="5.3"/></g>
<g id="n191"><circle cx="338" cy="1510" r="5.3"/></g>
<g id="n192"><circle cx="305" cy="1530.3" r="5.3"/></g>
<g id="n193"><circle cx="305" cy="1550.5" r="5.3"/></g>
<g id="n194"><circle cx="338" cy="1530.3" r="5.3"/></g>
<g id="n195"><circle cx="338" cy="1550.5" r="5.3"/></g>
<g id="n196"><circle cx="338" cy="1570.8" r="5.3"/></g>
<g id="n197"><circle cx="338" cy="1591.1" r="5.3"/></g>
<g id="n198"><circle cx="317" cy="1287" r="5.3"/></g>
<g id="n199"><circle cx="317" cy="1307.3" r="5.3"/></g>
<g id="n200"><circle cx="159" cy="1570.8" r="5.3"/></g>
<g id="n201"><circle cx="159" cy="1591.1" r="5.3"/></g>
<g id="n202"><circle cx="159" cy="1611.3" r="5.3"/></g>
<g id="n203"><circle cx="159" cy="1631.6" r="5.3"/></g>
<g id="n204"><circle cx="226" cy="1611.3" r="5.3"/></g>
<g id="n205"><circle cx="226" cy="1631.6" r="5.3"/></g>
<g id="n206"><circle cx="226" cy="1651.9" r="5.3"/></g>
<g id="n207"><circle cx="226" cy="1672.1" r="5.3"/></g>
<g id="n208"><circle cx="226" cy="1692.4" r="5.3"/></g>
<g id="n209"><circle cx="226" cy="1712.7" r="5.3"/></g>
<g id="n210"><circle cx="226" cy="1733" r="5.3"/></g>
<g id="n211"><circle cx="226" cy="1753.2" r="5.3"/></g>
<g id="n212"><circle cx="226" cy="1773.5" r="5.3"/></g>
<g id="n213"><circle cx="226" cy="1793.8" r="5.3"/></g>
<g id="n214"><circle cx="126" cy="1651.9" r="5.3"/></g>
<g id="n215"><circle cx="126" cy="1672.1" r="5.3"/></g>
<g id="n216"><circle cx="159" cy="1651.9" r="5.3"/></g>
<g id="n217"><circle cx="159" cy="1672.1" r="5.3"/></g>
<g id="n218"><circle cx="126" cy="1692.4" r="5.3"/></g>
<g id="n219"><circle cx="126" cy="1712.7" r="5.3"/></g>
<g id="n220"><circle cx="93" cy="1733" r="5.3"/></g>
<g id="n221"><circle cx="93" cy="1753.2" r="5.3"/></g>
<g id="n222"><circle cx="159" cy="1692.4" r="5.3"/></g>
<g id="n223"><circle cx="159" cy="1712.7" r="5.3"/></g>
<g id="n224"><circle cx="126" cy="1733" r="5.3"/></g>
<g id="n225"><circle cx="126" cy="1753.2" r="5.3"/></g>
<g id="n226"><circle cx="93" cy="1773.5" r="5.3"/></g>
<g id="n227"><circle cx="93" cy="1793.8" r="5.3"/></g>
<g id="n228"><circle cx="77" cy="1814" r="5.3"/></g>
<g id="n229"><circle cx="77" cy="1834.3" r="5.3"/></g>
<g id="n230"><circle cx="110" cy="1814" r="5.3"/></g>
<g id="n231"><circle cx="110" cy="1834.3" r="5.3"/></g>
<g id="n232"><circle cx="159" cy="1733" r="5.3"/></g>
<g id="n233"><circle cx="159" cy="1753.2" r="5.3"/></g>
<g id="n234"><circle cx="159" cy="1773.5" r="5.3"/></g>
<g id="n235"><circle cx="159" cy="1793.8" r="5.3"/></g>
<g id="n236"><circle cx="126" cy="1773.5" r="5.3"/></g>
<g id="n237"><circle cx="126" cy="1793.8" r="5.3"/></g>
<g id="n238"><circle cx="259" cy="1692.4" r="5.3"/></g>
<g id="n239"><circle cx="259" cy="1712.7" r="5.3"/></g>
<g id="n240"><circle cx="259" cy="1733" r="5.3"/></g>
<g id="n241"><circle cx="259" cy="1753.2" r="5.3"/></g>
<g id="n242"><circle cx="259" cy="1773.5" r="5.3"/></g>
<g id="n243"><circle cx="259" cy="1793.8" r="5.3"/></g>
<g id="n244"><circle cx="259" cy="1814" r="5.3"/></g>
<g id="n245"><circle cx="259" cy="1834.3" r="5.3"/></g>
<g id="n246"><circle cx="293" cy="1773.5" r="5.3"/></g>
<g id="n247"><circle cx="293" cy="1793.8" r="5.3"/></g>
<g id="n248"><circle cx="293" cy="1814" r="5.3"/></g>
<g id="n249"><circle cx="293" cy="1834.3" r="5.3"/></g>
<g id="n250"><circle cx="293" cy="1854.6" r="5.3"/></g>
<g id="n251"><circle cx="293" cy="1874.8" r="5.3"/></g>
<g id="n252"><circle cx="293" cy="1895.1" r="5.3"/></g>
<g id="n253"><circle cx="293" cy="1915.4" r="5.3"/></g>
<g id="n254"><circle cx="293" cy="1935.7" r="5.3"/></g>
<g id="n255"><circle cx="293" cy="1955.9" r="5.3"/></g>
<g id="n256"><circle cx="293" cy="1976.2" r="5.3"/></g>
<g id="n257"><circle cx="293" cy="1996.5" r="5.3"/></g>
<g id="n258"><circle cx="293" cy="2016.7" r="5.3"/></g>
<g id="n259"><circle cx="293" cy="2037" r="5.3"/></g>
<g id="n260"><circle cx="293" cy="2057.3" r="5.3"/></g>
<g id="n261"><circle cx="293" cy="2077.5" r="5.3"/></g>
<g id="n262"><circle cx="226" cy="1814" r="5.3"/></g>
<g id="n263"><circle cx="226" cy="1834.3" r="5.3"/></g>
<g id="n264"><circle cx="226" cy="1854.6" r="5.3"/></g>
<g id="n265"><circle cx="226" cy="1874.8" r="5.3"/></g>
<g id="n266"><circle cx="193" cy="1814" r="5.3"/></g>
<g id="n267"><circle cx="193" cy="1834.3" r="5.3"/></g>
<g id="n268"><circle cx="259" cy="1854.6" r="5.3"/></g>
<g id="n269"><circle cx="259" cy="1874.8" r="5.3"/></g>
<g id="n270"><circle cx="259" cy="1895.1" r="5.3"/></g>
<g id="n271"><circle cx="259" cy="1915.4" r="5.3"/></g>
<g id="n272"><circle cx="259" cy="1935.7" r="5.3"/></g>
<g id="n273"><circle cx="259" cy="1955.9" r="5.3"/></g>
<g id="n274"><circle cx="253" cy="1976.2" r="5.3"/></g>
<g id="n275"><circle cx="253" cy="1996.5" r="5.3"/></g>
<g id="n276"><circle cx="238" cy="2016.7" r="5.3"/></g>
<g id="n277"><circle cx="237" cy="2037" r="5.3"/></g>
<g id="n278"><circle cx="237" cy="2057.3" r="5.3"/></g>
<g id="n279"><circle cx="237" cy="2077.5" r="5.3"/></g>
<g id="n280"><circle cx="237" cy="2097.8" r="5.3"/></g>
<g id="n281"><circle cx="237" cy="2118.1" r="5.3"/></g>
<g id="n282"><circle cx="226" cy="1935.7" r="5.3"/></g>
<g id="n283"><circle cx="226" cy="1955.9" r="5.3"/></g>
<g id="n284"><circle cx="326" cy="1895.1" r="5.3"/></g>
<g id="n285"><circle cx="326" cy="1915.4" r="5.3"/></g>
<g id="n286"><circle cx="326" cy="2016.7" r="5.3"/></g>
<g id="n287"><circle cx="326" cy="2037" r="5.3"/></g>
<g id="n288"><circle cx="326" cy="2057.3" r="5.3"/></g>
<g id="n289"><circle cx="326" cy="2077.5" r="5.3"/></g>
<g id="n290"><circle cx="326" cy="2097.8" r="5.3"/></g>
<g id="n291"><circle cx="326" cy="2118.1" r="5.3"/></g>
<g id="n292"><circle cx="326" cy="2138.4" r="5.3"/></g>
<g id="n293"><circle cx="327" cy="2158.6" r="5.3"/></g>
<g id="n294"><circle cx="329" cy="2178.9" r="5.3"/></g>
<g id="n295"><circle cx="329" cy="2199.2" r="5.3"/></g>
<g id="n296"><circle cx="277" cy="1651.9" r="5.3"/></g>
<g id="n297"><circle cx="277" cy="1672.1" r="5.3"/></g>
<g id="n298"><circle cx="293" cy="1692.4" r="5.3"/></g>
<g id="n299"><circle cx="293" cy="1712.7" r="5.3"/></g>
<g id="n300"><circle cx="293" cy="1733" r="5.3"/></g>
<g id="n301"><circle cx="309" cy="1753.2" r="5.3"/></g>
<g id="n302"><circle cx="326" cy="1773.5" r="5.3"/></g>
<g id="n303"><circle cx="326" cy="1793.8" r="5.3"/></g>
<g id="n304"><circle cx="310" cy="1651.9" r="5.3"/></g>
<g id="n305"><circle cx="310" cy="1672.1" r="5.3"/></g>
<g id="n306"><circle cx="343" cy="1651.9" r="5.3"/></g>
<g id="n307"><circle cx="343" cy="1672.1" r="5.3"/></g>
<g id="n308"><circle cx="351" cy="1692.4" r="5.3"/></g>
<g id="n309"><circle cx="359" cy="1712.7" r="5.3"/></g>
<g id="n310"><circle cx="393" cy="1733" r="5.3"/></g>
<g id="n311"><circle cx="393" cy="1753.2" r="5.3"/></g>
<g id="n312"><circle cx="393" cy="1773.5" r="5.3"/></g>
<g id="n313"><circle cx="393" cy="1793.8" r="5.3"/></g>
<g id="n314"><circle cx="393" cy="1814" r="5.3"/></g>
<g id="n315"><circle cx="393" cy="1834.3" r="5.3"/></g>
<g id="n316"><circle cx="393" cy="1854.6" r="5.3"/></g>
<g id="n317"><circle cx="393" cy="1874.8" r="5.3"/></g>
<g id="n318"><circle cx="359" cy="1733" r="5.3"/></g>
<g id="n319"><circle cx="359" cy="1753.2" r="5.3"/></g>
<g id="n320"><circle cx="359" cy="1773.5" r="5.3"/></g>
<g id="n321"><circle cx="359" cy="1793.8" r="5.3"/></g>
<g id="n322"><circle cx="359" cy="1814" r="5.3"/></g>
<g id="n323"><circle cx="359" cy="1834.3" r="5.3"/></g>
<g id="n324"><circle cx="359" cy="1854.6" r="5.3"/></g>
<g id="n325"><circle cx="359" cy="1874.8" r="5.3"/></g>
<g id="n326"><circle cx="359" cy="1895.1" r="5.3"/></g>
<g id="n327"><circle cx="359" cy="1915.4" r="5.3"/></g>
<g id="n328"><circle cx="326" cy="1854.6" r="5.3"/></g>
<g id="n329"><circle cx="326" cy="1874.8" r="5.3"/></g>
<g id="n330"><circle cx="393" cy="1895.1" r="5.3"/></g>
<g id="n331"><circle cx="393" cy="1915.4" r="5.3"/></g>
<g id="n332"><circle cx="393" cy="1935.7" r="5.3"/></g>
<g id="n333"><circle cx="393" cy="1955.9" r="5.3"/></g>
<g id="n334"><circle cx="393" cy="1976.2" r="5.3"/></g>
<g id="n335"><circle cx="393" cy="1996.5" r="5.3"/></g>
<g id="n336"><circle cx="393" cy="2016.7" r="5.3"/></g>
<g id="n337"><circle cx="393" cy="2037" r="5.3"/></g>
<g id="n338"><circle cx="393" cy="2057.3" r="5.3"/></g>
<g id="n339"><circle cx="393" cy="2077.5" r="5.3"/></g>
<g id="n340"><circle cx="393" cy="2097.8" r="5.3"/></g>
<g id="n341"><circle cx="394" cy="2118.1" r="5.3"/></g>
<g id="n342"><circle cx="398" cy="2138.4" r="5.3"/></g>
<g id="n343"><circle cx="401" cy="2158.6" r="5.3"/></g>
<g id="n344"><circle cx="409" cy="2178.9" r="5.3"/></g>
<g id="n345"><circle cx="425" cy="2199.2" r="5.3"/></g>
<g id="n346"><circle cx="425" cy="2219.4" r="5.3"/></g>
<g id="n347"><circle cx="425" cy="2239.7" r="5.3"/></g>
<g id="n348"><circle cx="425" cy="2260" r="5.3"/></g>
<g id="n349"><circle cx="425" cy="2280.2" r="5.3"/></g>
<g id="n350"><circle cx="425" cy="2300.5" r="5.3"/></g>
<g id="n351"><circle cx="425" cy="2320.8" r="5.3"/></g>
<g id="n352"><circle cx="426" cy="1935.7" r="5.3"/></g>
<g id="n353"><circle cx="426" cy="1955.9" r="5.3"/></g>
<g id="n354"><circle cx="203" cy="2057.3" r="5.3"/></g>
<g id="n355"><circle cx="203" cy="2077.5" r="5.3"/></g>
<g id="n356"><circle cx="146" cy="2097.8" r="5.3"/></g>
<g id="n357"><circle cx="142" cy="2118.1" r="5.3"/></g>
<g id="n358"><circle cx="109" cy="2138.4" r="5.3"/></g>
<g id="n359"><circle cx="109" cy="2158.6" r="5.3"/></g>
<g id="n360"><circle cx="142" cy="2138.4" r="5.3"/></g>
<g id="n361"><circle cx="142" cy="2158.6" r="5.3"/></g>
<g id="n362"><circle cx="125" cy="2178.9" r="5.3"/></g>
<g id="n363"><circle cx="125" cy="2199.2" r="5.3"/></g>
<g id="n364"><circle cx="91" cy="2219.4" r="5.3"/></g>
<g id="n365"><circle cx="91" cy="2239.7" r="5.3"/></g>
<g id="n366"><circle cx="91" cy="2260" r="5.3"/></g>
<g id="n367"><circle cx="91" cy="2280.2" r="5.3"/></g>
<g id="n368"><circle cx="125" cy="2219.4" r="5.3"/></g>
<g id="n369"><circle cx="125" cy="2239.7" r="5.3"/></g>
<g id="n370"><circle cx="125" cy="2260" r="5.3"/></g>
<g id="n371"><circle cx="125" cy="2280.2" r="5.3"/></g>
<g id="n372"><circle cx="359" cy="2057.3" r="5.3"/></g>
<g id="n373"><circle cx="359" cy="2077.5" r="5.3"/></g>
<g id="n374"><circle cx="359" cy="2097.8" r="5.3"/></g>
<g id="n375"><circle cx="359" cy="2118.1" r="5.3"/></g>
<g id="n376"><circle cx="243" cy="2138.4" r="5.3"/></g>
<g id="n377"><circle cx="191" cy="2158.6" r="5.3"/></g>
<g id="n378"><circle cx="158" cy="2178.9" r="5.3"/></g>
<g id="n379"><circle cx="158" cy="2199.2" r="5.3"/></g>
<g id="n380"><circle cx="191" cy="2178.9" r="5.3"/></g>
<g id="n381"><circle cx="191" cy="2199.2" r="5.3"/></g>
<g id="n382"><circle cx="158" cy="2219.4" r="5.3"/></g>
<g id="n383"><circle cx="158" cy="2239.7" r="5.3"/></g>
<g id="n384"><circle cx="191" cy="2219.4" r="5.3"/></g>
<g id="n385"><circle cx="191" cy="2239.7" r="5.3"/></g>
<g id="n386"><circle cx="191" cy="2260" r="5.3"/></g>
<g id="n387"><circle cx="191" cy="2280.2" r="5.3"/></g>
<g id="n388"><circle cx="191" cy="2300.5" r="5.3"/></g>
<g id="n389"><circle cx="191" cy="2320.8" r="5.3"/></g>
<g id="n390"><circle cx="175" cy="2341.1" r="5.3"/></g>
<g id="n391"><circle cx="175" cy="2361.3" r="5.3"/></g>
<g id="n392"><circle cx="158" cy="2260" r="5.3"/></g>
<g id="n393"><circle cx="158" cy="2280.2" r="5.3"/></g>
<g id="n394"><circle cx="158" cy="2300.5" r="5.3"/></g>
<g id="n395"><circle cx="158" cy="2320.8" r="5.3"/></g>
<g id="n396"><circle cx="225" cy="2219.4" r="5.3"/></g>
<g id="n397"><circle cx="225" cy="2239.7" r="5.3"/></g>
<g id="n398"><circle cx="225" cy="2260" r="5.3"/></g>
<g id="n399"><circle cx="225" cy="2280.2" r="5.3"/></g>
<g id="n400"><circle cx="225" cy="2300.5" r="5.3"/></g>
<g id="n401"><circle cx="225" cy="2320.8" r="5.3"/></g>
<g id="n402"><circle cx="209" cy="2341.1" r="5.3"/></g>
<g id="n403"><circle cx="209" cy="2361.3" r="5.3"/></g>
<g id="n404"><circle cx="242" cy="2341.1" r="5.3"/></g>
<g id="n405"><circle cx="242" cy="2361.3" r="5.3"/></g>
<g id="n406"><circle cx="242" cy="2381.6" r="5.3"/></g>
<g id="n407"><circle cx="242" cy="2401.9" r="5.3"/></g>
<g id="n408"><circle cx="209" cy="2381.6" r="5.3"/></g>
<g id="n409"><circle cx="209" cy="2401.9" r="5.3"/></g>
<g id="n410"><circle cx="209" cy="2422.1" r="5.3"/></g>
<g id="n411"><circle cx="209" cy="2442.4" r="5.3"/></g>
<g id="n412"><circle cx="210" cy="2462.7" r="5.3"/></g>
<g id="n413"><circle cx="214" cy="2482.9" r="5.3"/></g>
<g id="n414"><circle cx="217" cy="2503.2" r="5.3"/></g>
<g id="n415"><circle cx="217" cy="2523.5" r="5.3"/></g>
<g id="n416"><circle cx="217" cy="2543.8" r="5.3"/></g>
<g id="n417"><circle cx="217" cy="2564" r="5.3"/></g>
<g id="n418"><circle cx="217" cy="2584.3" r="5.3"/></g>
<g id="n419"><circle cx="217" cy="2604.6" r="5.3"/></g>
<g id="n420"><circle cx="217" cy="2624.8" r="5.3"/></g>
<g id="n421"><circle cx="217" cy="2645.1" r="5.3"/></g>
<g id="n422"><circle cx="217" cy="2665.4" r="5.3"/></g>
<g id="n423"><circle cx="217" cy="2685.6" r="5.3"/></g>
<g id="n424"><circle cx="217" cy="2705.9" r="5.3"/></g>
<g id="n425"><circle cx="217" cy="2726.2" r="5.3"/></g>
<g id="n426"><circle cx="217" cy="2746.5" r="5.3"/></g>
<g id="n427"><circle cx="217" cy="2766.7" r="5.3"/></g>
<g id="n428"><circle cx="161" cy="2462.7" r="5.3"/></g>
<g id="n429"><circle cx="158" cy="2482.9" r="5.3"/></g>
<g id="n430"><circle cx="117" cy="2503.2" r="5.3"/></g>
<g id="n431"><circle cx="117" cy="2523.5" r="5.3"/></g>
<g id="n432"><circle cx="117" cy="2543.8" r="5.3"/></g>
<g id="n433"><circle cx="117" cy="2564" r="5.3"/></g>
<g id="n434"><circle cx="117" cy="2584.3" r="5.3"/></g>
<g id="n435"><circle cx="117" cy="2604.6" r="5.3"/></g>
<g id="n436"><circle cx="117" cy="2624.8" r="5.3"/></g>
<g id="n437"><circle cx="117" cy="2645.1" r="5.3"/></g>
<g id="n438"><circle cx="150" cy="2503.2" r="5.3"/></g>
<g id="n439"><circle cx="150" cy="2523.5" r="5.3"/></g>
<g id="n440"><circle cx="183" cy="2503.2" r="5.3"/></g>
<g id="n441"><circle cx="183" cy="2523.5" r="5.3"/></g>
<g id="n442"><circle cx="183" cy="2543.8" r="5.3"/></g>
<g id="n443"><circle cx="183" cy="2564" r="5.3"/></g>
<g id="n444"><circle cx="183" cy="2584.3" r="5.3"/></g>
<g id="n445"><circle cx="183" cy="2604.6" r="5.3"/></g>
<g id="n446"><circle cx="183" cy="2624.8" r="5.3"/></g>
<g id="n447"><circle cx="183" cy="2645.1" r="5.3"/></g>
<g id="n448"><circle cx="183" cy="2665.4" r="5.3"/></g>
<g id="n449"><circle cx="183" cy="2685.6" r="5.3"/></g>
<g id="n450"><circle cx="183" cy="2705.9" r="5.3"/></g>
<g id="n451"><circle cx="183" cy="2726.2" r="5.3"/></g>
<g id="n452"><circle cx="183" cy="2746.5" r="5.3"/></g>
<g id="n453"><circle cx="183" cy="2766.7" r="5.3"/></g>
<g id="n454"><circle cx="183" cy="2787" r="5.3"/></g>
<g id="n455"><circle cx="183" cy="2807.3" r="5.3"/></g>
<g id="n456"><circle cx="183" cy="2827.5" r="5.3"/></g>
<g id="n457"><circle cx="183" cy="2847.8" r="5.3"/></g>
<g id="n458"><circle cx="183" cy="2868.1" r="5.3"/></g>
<g id="n459"><circle cx="183" cy="2888.3" r="5.3"/></g>
<g id="n460"><circle cx="183" cy="2908.6" r="5.3"/></g>
<g id="n461"><circle cx="183" cy="2928.9" r="5.3"/></g>
<g id="n462"><circle cx="183" cy="2949.2" r="5.3"/></g>
<g id="n463"><circle cx="183" cy="2969.4" r="5.3"/></g>
<g id="n464"><circle cx="183" cy="2989.7" r="5.3"/></g>
<g id="n465"><circle cx="183" cy="3010" r="5.3"/></g>
<g id="n466"><circle cx="150" cy="2624.8" r="5.3"/></g>
<g id="n467"><circle cx="150" cy="2645.1" r="5.3"/></g>
<g id="n468"><circle cx="315" cy="2219.4" r="5.3"/></g>
<g id="n469"><circle cx="307" cy="2239.7" r="5.3"/></g>
<g id="n470"><circle cx="258" cy="2260" r="5.3"/></g>
<g id="n471"><circle cx="258" cy="2280.2" r="5.3"/></g>
<g id="n472"><circle cx="271" cy="2300.5" r="5.3"/></g>
<g id="n473"><circle cx="278" cy="2320.8" r="5.3"/></g>
<g id="n474"><circle cx="285" cy="2341.1" r="5.3"/></g>
<g id="n475"><circle cx="293" cy="2361.3" r="5.3"/></g>
<g id="n476"><circle cx="275" cy="2381.6" r="5.3"/></g>
<g id="n477"><circle cx="275" cy="2401.9" r="5.3"/></g>
<g id="n478"><circle cx="275" cy="2422.1" r="5.3"/></g>
<g id="n479"><circle cx="275" cy="2442.4" r="5.3"/></g>
<g id="n480"><circle cx="309" cy="2381.6" r="5.3"/></g>
<g id="n481"><circle cx="309" cy="2401.9" r="5.3"/></g>
<g id="n482"><circle cx="309" cy="2422.1" r="5.3"/></g>
<g id="n483"><circle cx="309" cy="2442.4" r="5.3"/></g>
<g id="n484"><circle cx="309" cy="2462.7" r="5.3"/></g>
<g id="n485"><circle cx="309" cy="2482.9" r="5.3"/></g>
<g id="n486"><circle cx="309" cy="2503.2" r="5.3"/></g>
<g id="n487"><circle cx="309" cy="2523.5" r="5.3"/></g>
<g id="n488"><circle cx="309" cy="2543.8" r="5.3"/></g>
<g id="n489"><circle cx="309" cy="2564" r="5.3"/></g>
<g id="n490"><circle cx="309" cy="2584.3" r="5.3"/></g>
<g id="n491"><circle cx="309" cy="2604.6" r="5.3"/></g>
<g id="n492"><circle cx="342" cy="2422.1" r="5.3"/></g>
<g id="n493"><circle cx="342" cy="2442.4" r="5.3"/></g>
<g id="n494"><circle cx="342" cy="2381.6" r="5.3"/></g>
<g id="n495"><circle cx="342" cy="2401.9" r="5.3"/></g>
<g id="n496"><circle cx="291" cy="2260" r="5.3"/></g>
<g id="n497"><circle cx="291" cy="2280.2" r="5.3"/></g>
<g id="n498"><circle cx="325" cy="2260" r="5.3"/></g>
<g id="n499"><circle cx="325" cy="2280.2" r="5.3"/></g>
<g id="n500"><circle cx="325" cy="2300.5" r="5.3"/></g>
<g id="n501"><circle cx="325" cy="2320.8" r="5.3"/></g>
<g id="n502"><circle cx="358" cy="2219.4" r="5.3"/></g>
<g id="n503"><circle cx="358" cy="2239.7" r="5.3"/></g>
<g id="n504"><circle cx="358" cy="2260" r="5.3"/></g>
<g id="n505"><circle cx="358" cy="2280.2" r="5.3"/></g>
<g id="n506"><circle cx="391" cy="2219.4" r="5.3"/></g>
<g id="n507"><circle cx="391" cy="2239.7" r="5.3"/></g>
<g id="n508"><circle cx="391" cy="2260" r="5.3"/></g>
<g id="n509"><circle cx="391" cy="2280.2" r="5.3"/></g>
<g id="n510"><circle cx="391" cy="2300.5" r="5.3"/></g>
<g id="n511"><circle cx="391" cy="2320.8" r="5.3"/></g>
<g id="n512"><circle cx="391" cy="2341.1" r="5.3"/></g>
<g id="n513"><circle cx="391" cy="2361.3" r="5.3"/></g>
<g id="n514"><circle cx="458" cy="2219.4" r="5.3"/></g>
<g id="n515"><circle cx="458" cy="2239.7" r="5.3"/></g>
<g id="n516"><circle cx="458" cy="2260" r="5.3"/></g>
<g id="n517"><circle cx="458" cy="2280.2" r="5.3"/></g>
<g id="n518"><circle cx="458" cy="2300.5" r="5.3"/></g>
<g id="n519"><circle cx="458" cy="2320.8" r="5.3"/></g>
<g id="n520"><circle cx="458" cy="2341.1" r="5.3"/></g>
<g id="n521"><circle cx="458" cy="2361.3" r="5.3"/></g>
<g id="n522"><circle cx="293" cy="2624.8" r="5.3"/></g>
<g id="n523"><circle cx="293" cy="2645.1" r="5.3"/></g>
<g id="n524"><circle cx="293" cy="2665.4" r="5.3"/></g>
<g id="n525"><circle cx="293" cy="2685.6" r="5.3"/></g>
<g id="n526"><circle cx="293" cy="2705.9" r="5.3"/></g>
<g id="n527"><circle cx="293" cy="2726.2" r="5.3"/></g>
<g id="n528"><circle cx="326" cy="2624.8" r="5.3"/></g>
<g id="n529"><circle cx="326" cy="2645.1" r="5.3"/></g>
<g id="n530"><circle cx="287" cy="2746.5" r="5.3"/></g>
<g id="n531"><circle cx="287" cy="2766.7" r="5.3"/></g>
<g id="n532"><circle cx="287" cy="2787" r="5.3"/></g>
<g id="n533"><circle cx="287" cy="2807.3" r="5.3"/></g>
<g id="n534"><circle cx="287" cy="2827.5" r="5.3"/></g>
<g id="n535"><circle cx="287" cy="2847.8" r="5.3"/></g>
<g id="n536"><circle cx="321" cy="2746.5" r="5.3"/></g>
<g id="n537"><circle cx="321" cy="2766.7" r="5.3"/></g>
<g id="n538"><circle cx="321" cy="2787" r="5.3"/></g>
<g id="n539"><circle cx="321" cy="2807.3" r="5.3"/></g>
<g id="n540"><circle cx="321" cy="2827.5" r="5.3"/></g>
<g id="n541"><circle cx="321" cy="2847.8" r="5.3"/></g>
<g id="n542"><circle cx="254" cy="2787" r="5.3"/></g>
<g id="n543"><circle cx="254" cy="2807.3" r="5.3"/></g>
<g id="n544"><circle cx="254" cy="2827.5" r="5.3"/></g>
<g id="n545"><circle cx="254" cy="2847.8" r="5.3"/></g>
<g id="n546"><circle cx="253" cy="2868.1" r="5.3"/></g>
<g id="n547"><circle cx="253" cy="2888.3" r="5.3"/></g>
<g id="n548"><circle cx="253" cy="2908.6" r="5.3"/></g>
<g id="n549"><circle cx="253" cy="2928.9" r="5.3"/></g>
<g id="n550"><circle cx="253" cy="2949.2" r="5.3"/></g>
<g id="n551"><circle cx="253" cy="2969.4" r="5.3"/></g>
<g id="n552"><circle cx="253" cy="2989.7" r="5.3"/></g>
<g id="n553"><circle cx="253" cy="3010" r="5.3"/></g>
<g id="n554"><circle cx="253" cy="3030.2" r="5.3"/></g>
<g id="n555"><circle cx="253" cy="3050.5" r="5.3"/></g>
<g id="n556"><circle cx="286" cy="2868.1" r="5.3"/></g>
<g id="n557"><circle cx="286" cy="2888.3" r="5.3"/></g>
<g id="n558"><circle cx="286" cy="2908.6" r="5.3"/></g>
<g id="n559"><circle cx="286" cy="2928.9" r="5.3"/></g>
<g id="n560"><circle cx="286" cy="2949.2" r="5.3"/></g>
<g id="n561"><circle cx="286" cy="2969.4" r="5.3"/></g>
<g id="n562"><circle cx="286" cy="2989.7" r="5.3"/></g>
<g id="n563"><circle cx="286" cy="3010" r="5.3"/></g>
<g id="n564"><circle cx="286" cy="3030.2" r="5.3"/></g>
<g id="n565"><circle cx="286" cy="3050.5" r="5.3"/></g>
<g id="n566"><circle cx="219" cy="2908.6" r="5.3"/></g>
<g id="n567"><circle cx="219" cy="2928.9" r="5.3"/></g>
<g id="n568"><circle cx="219" cy="2949.2" r="5.3"/></g>
<g id="n569"><circle cx="219" cy="2969.4" r="5.3"/></g>
<g id="n570"><circle cx="219" cy="2989.7" r="5.3"/></g>
<g id="n571"><circle cx="219" cy="3010" r="5.3"/></g>
<g id="n572"><circle cx="219" cy="3030.2" r="5.3"/></g>
<g id="n573"><circle cx="219" cy="3050.5" r="5.3"/></g>
<g id="n574"><circle cx="269" cy="3070.8" r="5.3"/></g>
<g id="n575"><circle cx="269" cy="3091" r="5.3"/></g>
<g id="n576"><circle cx="269" cy="3111.3" r="5.3"/></g>
<g id="n577"><circle cx="269" cy="3131.6" r="5.3"/></g>
<g id="n578"><circle cx="269" cy="3151.9" r="5.3"/></g>
<g id="n579"><circle cx="269" cy="3172.1" r="5.3"/></g>
<g id="n580"><circle cx="269" cy="3192.4" r="5.3"/></g>
<g id="n581"><circle cx="269" cy="3212.7" r="5.3"/></g>
<g id="n582"><circle cx="302" cy="3070.8" r="5.3"/></g>
<g id="n583"><circle cx="302" cy="3091" r="5.3"/></g>
<g id="n584"><circle cx="302" cy="3111.3" r="5.3"/></g>
<g id="n585"><circle cx="302" cy="3131.6" r="5.3"/></g>
<g id="n586"><circle cx="302" cy="3151.9" r="5.3"/></g>
<g id="n587"><circle cx="302" cy="3172.1" r="5.3"/></g>
<g id="n588"><circle cx="302" cy="3192.4" r="5.3"/></g>
<g id="n589"><circle cx="302" cy="3212.7" r="5.3"/></g>
<g id="n590"><circle cx="302" cy="3232.9" r="5.3"/></g>
<g id="n591"><circle cx="302" cy="3253.2" r="5.3"/></g>
<g id="n592"><circle cx="302" cy="3273.5" r="5.3"/></g>
<g id="n593"><circle cx="302" cy="3293.7" r="5.3"/></g>
<g id="n594"><circle cx="302" cy="3314" r="5.3"/></g>
<g id="n595"><circle cx="302" cy="3334.3" r="5.3"/></g>
<g id="n596"><circle cx="302" cy="3354.6" r="5.3"/></g>
<g id="n597"><circle cx="302" cy="3374.8" r="5.3"/></g>
<g id="n598"><circle cx="302" cy="3395.1" r="5.3"/></g>
<g id="n599"><circle cx="302" cy="3415.4" r="5.3"/></g>
<g id="n600"><circle cx="302" cy="3435.6" r="5.3"/></g>
<g id="n601"><circle cx="302" cy="3455.9" r="5.3"/></g>
<g id="n602"><circle cx="302" cy="3476.2" r="5.3"/></g>
<g id="n603"><circle cx="302" cy="3496.4" r="5.3"/></g>
<g id="n604"><circle cx="302" cy="3516.7" r="5.3"/></g>
<g id="n605"><circle cx="302" cy="3537" r="5.3"/></g>
<g id="n606"><circle cx="302" cy="3557.3" r="5.3"/></g>
<g id="n607"><circle cx="302" cy="3577.5" r="5.3"/></g>
<g id="n608"><circle cx="235" cy="3111.3" r="5.3"/></g>
<g id="n609"><circle cx="235" cy="3131.6" r="5.3"/></g>
<g id="n610"><circle cx="235" cy="3151.9" r="5.3"/></g>
<g id="n611"><circle cx="235" cy="3172.1" r="5.3"/></g>
<g id="n612"><circle cx="235" cy="3192.4" r="5.3"/></g>
<g id="n613"><circle cx="235" cy="3212.7" r="5.3"/></g>
<g id="n614"><circle cx="235" cy="3232.9" r="5.3"/></g>
<g id="n615"><circle cx="235" cy="3253.2" r="5.3"/></g>
<g id="n616"><circle cx="235" cy="3273.5" r="5.3"/></g>
<g id="n617"><circle cx="235" cy="3293.7" r="5.3"/></g>
<g id="n618"><circle cx="235" cy="3314" r="5.3"/></g>
<g id="n619"><circle cx="235" cy="3334.3" r="5.3"/></g>
<g id="n620"><circle cx="235" cy="3354.6" r="5.3"/></g>
<g id="n621"><circle cx="235" cy="3374.8" r="5.3"/></g>
<g id="n622"><circle cx="235" cy="3395.1" r="5.3"/></g>
<g id="n623"><circle cx="235" cy="3415.4" r="5.3"/></g>
<g id="n624"><circle cx="235" cy="3435.6" r="5.3"/></g>
<g id="n625"><circle cx="235" cy="3455.9" r="5.3"/></g>
<g id="n626"><circle cx="185" cy="3273.5" r="5.3"/></g>
<g id="n627"><circle cx="169" cy="3293.7" r="5.3"/></g>
<g id="n628"><circle cx="169" cy="3314" r="5.3"/></g>
<g id="n629"><circle cx="169" cy="3334.3" r="5.3"/></g>
<g id="n630"><circle cx="169" cy="3354.6" r="5.3"/></g>
<g id="n631"><circle cx="169" cy="3374.8" r="5.3"/></g>
<g id="n632"><circle cx="169" cy="3395.1" r="5.3"/></g>
<g id="n633"><circle cx="169" cy="3415.4" r="5.3"/></g>
<g id="n634"><circle cx="118" cy="3314" r="5.3"/></g>
<g id="n635"><circle cx="102" cy="3334.3" r="5.3"/></g>
<g id="n636"><circle cx="102" cy="3354.6" r="5.3"/></g>
<g id="n637"><circle cx="102" cy="3374.8" r="5.3"/></g>
<g id="n638"><circle cx="102" cy="3395.1" r="5.3"/></g>
<g id="n639"><circle cx="102" cy="3415.4" r="5.3"/></g>
<g id="n640"><circle cx="69" cy="3354.6" r="5.3"/></g>
<g id="n641"><circle cx="69" cy="3374.8" r="5.3"/></g>
<g id="n642"><circle cx="69" cy="3395.1" r="5.3"/></g>
<g id="n643"><circle cx="69" cy="3415.4" r="5.3"/></g>
<g id="n644"><circle cx="69" cy="3435.6" r="5.3"/></g>
<g id="n645"><circle cx="69" cy="3455.9" r="5.3"/></g>
<g id="n646"><circle cx="69" cy="3476.2" r="5.3"/></g>
<g id="n647"><circle cx="69" cy="3496.4" r="5.3"/></g>
<g id="n648"><circle cx="69" cy="3516.7" r="5.3"/></g>
<g id="n649"><circle cx="69" cy="3537" r="5.3"/></g>
<g id="n650"><circle cx="69" cy="3557.3" r="5.3"/></g>
<g id="n651"><circle cx="69" cy="3577.5" r="5.3"/></g>
<g id="n652"><circle cx="69" cy="3597.8" r="5.3"/></g>
<g id="n653"><circle cx="69" cy="3618.1" r="5.3"/></g>
<g id="n654"><circle cx="69" cy="3638.3" r="5.3"/></g>
<g id="n655"><circle cx="69" cy="3658.6" r="5.3"/></g>
<g id="n656"><circle cx="102" cy="3435.6" r="5.3"/></g>
<g id="n657"><circle cx="102" cy="3455.9" r="5.3"/></g>
<g id="n658"><circle cx="102" cy="3557.3" r="5.3"/></g>
<g id="n659"><circle cx="102" cy="3577.5" r="5.3"/></g>
<g id="n660"><circle cx="102" cy="3597.8" r="5.3"/></g>
<g id="n661"><circle cx="102" cy="3618.1" r="5.3"/></g>
<g id="n662"><circle cx="102" cy="3638.3" r="5.3"/></g>
<g id="n663"><circle cx="102" cy="3658.6" r="5.3"/></g>
<g id="n664"><circle cx="135" cy="3395.1" r="5.3"/></g>
<g id="n665"><circle cx="135" cy="3415.4" r="5.3"/></g>
<g id="n666"><circle cx="135" cy="3435.6" r="5.3"/></g>
<g id="n667"><circle cx="135" cy="3455.9" r="5.3"/></g>
<g id="n668"><circle cx="135" cy="3476.2" r="5.3"/></g>
<g id="n669"><circle cx="135" cy="3496.4" r="5.3"/></g>
<g id="n670"><circle cx="135" cy="3516.7" r="5.3"/></g>
<g id="n671"><circle cx="135" cy="3537" r="5.3"/></g>
<g id="n672"><circle cx="135" cy="3557.3" r="5.3"/></g>
<g id="n673"><circle cx="135" cy="3577.5" r="5.3"/></g>
<g id="n674"><circle cx="135" cy="3597.8" r="5.3"/></g>
<g id="n675"><circle cx="135" cy="3618.1" r="5.3"/></g>
<g id="n676"><circle cx="135" cy="3638.3" r="5.3"/></g>
<g id="n677"><circle cx="135" cy="3658.6" r="5.3"/></g>
<g id="n678"><circle cx="169" cy="3435.6" r="5.3"/></g>
<g id="n679"><circle cx="169" cy="3455.9" r="5.3"/></g>
<g id="n680"><circle cx="169" cy="3557.3" r="5.3"/></g>
<g id="n681"><circle cx="169" cy="3577.5" r="5.3"/></g>
<g id="n682"><circle cx="202" cy="3395.1" r="5.3"/></g>
<g id="n683"><circle cx="202" cy="3415.4" r="5.3"/></g>
<g id="n684"><circle cx="202" cy="3435.6" r="5.3"/></g>
<g id="n685"><circle cx="202" cy="3455.9" r="5.3"/></g>
<g id="n686"><circle cx="335" cy="3314" r="5.3"/></g>
<g id="n687"><circle cx="335" cy="3334.3" r="5.3"/></g>
<g id="n688"><circle cx="335" cy="3354.6" r="5.3"/></g>
<g id="n689"><circle cx="335" cy="3374.8" r="5.3"/></g>
<g id="n690"><circle cx="335" cy="3395.1" r="5.3"/></g>
<g id="n691"><circle cx="335" cy="3415.4" r="5.3"/></g>
<g id="n692"><circle cx="335" cy="3435.6" r="5.3"/></g>
<g id="n693"><circle cx="335" cy="3455.9" r="5.3"/></g>
<g id="n694"><circle cx="335" cy="3476.2" r="5.3"/></g>
<g id="n695"><circle cx="335" cy="3496.4" r="5.3"/></g>
<g id="n696"><circle cx="269" cy="3354.6" r="5.3"/></g>
<g id="n697"><circle cx="269" cy="3374.8" r="5.3"/></g>
<g id="n698"><circle cx="269" cy="3395.1" r="5.3"/></g>
<g id="n699"><circle cx="269" cy="3415.4" r="5.3"/></g>
<g id="n700"><circle cx="269" cy="3435.6" r="5.3"/></g>
<g id="n701"><circle cx="269" cy="3455.9" r="5.3"/></g>
<g id="n702"><circle cx="269" cy="3476.2" r="5.3"/></g>
<g id="n703"><circle cx="269" cy="3496.4" r="5.3"/></g>
<g id="n704"><circle cx="269" cy="3516.7" r="5.3"/></g>
<g id="n705"><circle cx="269" cy="3537" r="5.3"/></g>
<g id="n706"><circle cx="118" cy="3678.9" r="5.3"/></g>
<g id="n707"><circle cx="118" cy="3699.1" r="5.3"/></g>
<g id="n708"><circle cx="118" cy="3719.4" r="5.3"/></g>
<g id="n709"><circle cx="118" cy="3739.7" r="5.3"/></g>
<g id="n710"><circle cx="118" cy="3760" r="5.3"/></g>
<g id="n711"><circle cx="118" cy="3780.2" r="5.3"/></g>
<g id="n712"><circle cx="151" cy="3678.9" r="5.3"/></g>
<g id="n713"><circle cx="151" cy="3699.1" r="5.3"/></g>
<g id="n714"><circle cx="151" cy="3719.4" r="5.3"/></g>
<g id="n715"><circle cx="151" cy="3739.7" r="5.3"/></g>
<g id="n716"><circle cx="151" cy="3760" r="5.3"/></g>
<g id="n717"><circle cx="151" cy="3780.2" r="5.3"/></g>
<g id="n718"><circle cx="151" cy="3800.5" r="5.3"/></g>
<g id="n719"><circle cx="151" cy="3820.8" r="5.3"/></g>
<g id="n720"><circle cx="185" cy="3719.4" r="5.3"/></g>
<g id="n721"><circle cx="185" cy="3739.7" r="5.3"/></g>
<g id="n722"><circle cx="185" cy="3760" r="5.3"/></g>
<g id="n723"><circle cx="185" cy="3780.2" r="5.3"/></g>
<g id="n724"><circle cx="185" cy="3800.5" r="5.3"/></g>
<g id="n725"><circle cx="185" cy="3820.8" r="5.3"/></g>
<g id="n726"><circle cx="185" cy="3841" r="5.3"/></g>
<g id="n727"><circle cx="185" cy="3861.3" r="5.3"/></g>
<g id="n728"><circle cx="185" cy="3881.6" r="5.3"/></g>
<g id="n729"><circle cx="185" cy="3901.8" r="5.3"/></g>
<g id="n730"><circle cx="185" cy="3922.1" r="5.3"/></g>
<g id="n731"><circle cx="185" cy="3942.4" r="5.3"/></g>
<g id="n732"><circle cx="185" cy="3962.7" r="5.3"/></g>
<g id="n733"><circle cx="185" cy="3982.9" r="5.3"/></g>
<g id="n734"><circle cx="185" cy="4003.2" r="5.3"/></g>
<g id="n735"><circle cx="185" cy="4023.5" r="5.3"/></g>
<g id="n736"><circle cx="218" cy="4003.2" r="5.3"/></g>
<g id="n737"><circle cx="218" cy="4023.5" r="5.3"/></g>
<g id="n738"><circle cx="155" cy="4043.7" r="5.3"/></g>
<g id="n739"><circle cx="155" cy="4064" r="5.3"/></g>
<g id="n740"><circle cx="155" cy="4084.3" r="5.3"/></g>
<g id="n741"><circle cx="155" cy="4104.5" r="5.3"/></g>
<g id="n742"><circle cx="155" cy="4124.8" r="5.3"/></g>
<g id="n743"><circle cx="155" cy="4145.1" r="5.3"/></g>
<g id="n744"><circle cx="139" cy="4165.4" r="5.3"/></g>
<g id="n745"><circle cx="139" cy="4185.6" r="5.3"/></g>
<g id="n746"><circle cx="139" cy="4205.9" r="5.3"/></g>
<g id="n747"><circle cx="139" cy="4226.2" r="5.3"/></g>
<g id="n748"><circle cx="139" cy="4246.4" r="5.3"/></g>
<g id="n749"><circle cx="139" cy="4266.7" r="5.3"/></g>
<g id="n750"><circle cx="173" cy="4165.4" r="5.3"/></g>
<g id="n751"><circle cx="173" cy="4185.6" r="5.3"/></g>
<g id="n752"><circle cx="189" cy="4043.7" r="5.3"/></g>
<g id="n753"><circle cx="189" cy="4064" r="5.3"/></g>
<g id="n754"><circle cx="269" cy="3557.3" r="5.3"/></g>
<g id="n755"><circle cx="269" cy="3577.5" r="5.3"/></g>
<g id="n756"><circle cx="299" cy="3597.8" r="5.3"/></g>
<g id="n757"><circle cx="299" cy="3618.1" r="5.3"/></g>
<g id="n758"><circle cx="299" cy="3638.3" r="5.3"/></g>
<g id="n759"><circle cx="299" cy="3658.6" r="5.3"/></g>
<g id="n760"><circle cx="266" cy="3597.8" r="5.3"/></g>
<g id="n761"><circle cx="266" cy="3618.1" r="5.3"/></g>
<g id="n762"><circle cx="266" cy="3638.3" r="5.3"/></g>
<g id="n763"><circle cx="266" cy="3658.6" r="5.3"/></g>
<g id="n764"><circle cx="266" cy="3678.9" r="5.3"/></g>
<g id="n765"><circle cx="266" cy="3699.1" r="5.3"/></g>
<g id="n766"><circle cx="266" cy="3719.4" r="5.3"/></g>
<g id="n767"><circle cx="266" cy="3739.7" r="5.3"/></g>
<g id="n768"><circle cx="266" cy="3760" r="5.3"/></g>
<g id="n769"><circle cx="266" cy="3780.2" r="5.3"/></g>
<g id="n770"><circle cx="270" cy="3800.5" r="5.3"/></g>
<g id="n771"><circle cx="270" cy="3820.8" r="5.3"/></g>
<g id="n772"><circle cx="270" cy="3841" r="5.3"/></g>
<g id="n773"><circle cx="270" cy="3861.3" r="5.3"/></g>
<g id="n774"><circle cx="270" cy="3881.6" r="5.3"/></g>
<g id="n775"><circle cx="270" cy="3901.8" r="5.3"/></g>
<g id="n776"><circle cx="270" cy="3922.1" r="5.3"/></g>
<g id="n777"><circle cx="270" cy="3942.4" r="5.3"/></g>
<g id="n778"><circle cx="270" cy="3962.7" r="5.3"/></g>
<g id="n779"><circle cx="270" cy="3982.9" r="5.3"/></g>
<g id="n780"><circle cx="233" cy="3638.3" r="5.3"/></g>
<g id="n781"><circle cx="233" cy="3658.6" r="5.3"/></g>
<g id="n782"><circle cx="299" cy="3678.9" r="5.3"/></g>
<g id="n783"><circle cx="299" cy="3699.1" r="5.3"/></g>
<g id="n784"><circle cx="237" cy="3800.5" r="5.3"/></g>
<g id="n785"><circle cx="237" cy="3820.8" r="5.3"/></g>
<g id="n786"><circle cx="237" cy="3841" r="5.3"/></g>
<g id="n787"><circle cx="237" cy="3861.3" r="5.3"/></g>
<g id="n788"><circle cx="333" cy="3638.3" r="5.3"/></g>
<g id="n789"><circle cx="333" cy="3658.6" r="5.3"/></g>
<g id="n790"><circle cx="333" cy="3678.9" r="5.3"/></g>
<g id="n791"><circle cx="333" cy="3699.1" r="5.3"/></g>
<g id="n792"><circle cx="333" cy="3719.4" r="5.3"/></g>
<g id="n793"><circle cx="333" cy="3739.7" r="5.3"/></g>
<g id="n794"><circle cx="307" cy="3760" r="5.3"/></g>
<g id="n795"><circle cx="307" cy="3780.2" r="5.3"/></g>
<g id="n796"><circle cx="307" cy="3800.5" r="5.3"/></g>
<g id="n797"><circle cx="307" cy="3820.8" r="5.3"/></g>
<g id="n798"><circle cx="307" cy="3841" r="5.3"/></g>
<g id="n799"><circle cx="307" cy="3861.3" r="5.3"/></g>
<g id="n800"><circle cx="307" cy="3881.6" r="5.3"/></g>
<g id="n801"><circle cx="307" cy="3901.8" r="5.3"/></g>
<g id="n802"><circle cx="341" cy="3760" r="5.3"/></g>
<g id="n803"><circle cx="341" cy="3780.2" r="5.3"/></g>
<g id="n804"><circle cx="341" cy="3800.5" r="5.3"/></g>
<g id="n805"><circle cx="341" cy="3820.8" r="5.3"/></g>
<g id="n806"><circle cx="341" cy="3841" r="5.3"/></g>
<g id="n807"><circle cx="341" cy="3861.3" r="5.3"/></g>
<g id="n808"><circle cx="258" cy="4003.2" r="5.3"/></g>
<g id="n809"><circle cx="258" cy="4023.5" r="5.3"/></g>
<g id="n810"><circle cx="258" cy="4043.7" r="5.3"/></g>
<g id="n811"><circle cx="258" cy="4064" r="5.3"/></g>
<g id="n812"><circle cx="225" cy="4043.7" r="5.3"/></g>
<g id="n813"><circle cx="225" cy="4064" r="5.3"/></g>
<g id="n814"><circle cx="225" cy="4084.3" r="5.3"/></g>
<g id="n815"><circle cx="225" cy="4104.5" r="5.3"/></g>
<g id="n816"><circle cx="225" cy="4124.8" r="5.3"/></g>
<g id="n817"><circle cx="225" cy="4145.1" r="5.3"/></g>
<g id="n818"><circle cx="225" cy="4165.4" r="5.3"/></g>
<g id="n819"><circle cx="225" cy="4185.6" r="5.3"/></g>
<g id="n820"><circle cx="225" cy="4205.9" r="5.3"/></g>
<g id="n821"><circle cx="225" cy="4226.2" r="5.3"/></g>
<g id="n822"><circle cx="225" cy="4246.4" r="5.3"/></g>
<g id="n823"><circle cx="225" cy="4266.7" r="5.3"/></g>
<g id="n824"><circle cx="291" cy="4003.2" r="5.3"/></g>
<g id="n825"><circle cx="291" cy="4023.5" r="5.3"/></g>
<g id="n826"><circle cx="291" cy="4043.7" r="5.3"/></g>
<g id="n827"><circle cx="291" cy="4064" r="5.3"/></g>
<g id="n828"><circle cx="291" cy="4084.3" r="5.3"/></g>
<g id="n829"><circle cx="291" cy="4104.5" r="5.3"/></g>
<g id="n830"><circle cx="291" cy="4124.8" r="5.3"/></g>
<g id="n831"><circle cx="291" cy="4145.1" r="5.3"/></g>
<g id="n832"><circle cx="291" cy="4165.4" r="5.3"/></g>
<g id="n833"><circle cx="291" cy="4185.6" r="5.3"/></g>
<g id="n834"><circle cx="291" cy="4205.9" r="5.3"/></g>
<g id="n835"><circle cx="291" cy="4226.2" r="5.3"/></g>
<g id="n836"><circle cx="291" cy="4246.4" r="5.3"/></g>
<g id="n837"><circle cx="291" cy="4266.7" r="5.3"/></g>
<g id="n838"><circle cx="291" cy="4287" r="5.3"/></g>
<g id="n839"><circle cx="291" cy="4307.2" r="5.3"/></g>
<g id="n840"><circle cx="325" cy="4043.7" r="5.3"/></g>
<g id="n841"><circle cx="325" cy="4064" r="5.3"/></g>
<g id="n842"><circle cx="325" cy="4084.3" r="5.3"/></g>
<g id="n843"><circle cx="325" cy="4104.5" r="5.3"/></g>
<g id="n844"><circle cx="325" cy="4124.8" r="5.3"/></g>
<g id="n845"><circle cx="325" cy="4145.1" r="5.3"/></g>
<g id="n846"><circle cx="258" cy="4084.3" r="5.3"/></g>
<g id="n847"><circle cx="258" cy="4104.5" r="5.3"/></g>
<g id="n848"><circle cx="258" cy="4124.8" r="5.3"/></g>
<g id="n849"><circle cx="258" cy="4145.1" r="5.3"/></g>
<g id="n850"><circle cx="275" cy="4327.5" r="5.3"/></g>
<g id="n851"><circle cx="275" cy="4347.8" r="5.3"/></g>
<g id="n852"><circle cx="309" cy="4327.5" r="5.3"/></g>
<g id="n853"><circle cx="309" cy="4347.8" r="5.3"/></g>
<g id="n854"><circle cx="259" cy="4368.1" r="5.3"/></g>
<g id="n855"><circle cx="259" cy="4388.3" r="5.3"/></g>
<g id="n856"><circle cx="297" cy="4368.1" r="5.3"/></g>
<g id="n857"><circle cx="301" cy="4388.3" r="5.3"/></g>
<g id="n858"><circle cx="310" cy="4408.6" r="5.3"/></g>
<g id="n859"><circle cx="310" cy="4428.9" r="5.3"/></g>
<g id="n860"><circle cx="310" cy="4449.1" r="5.3"/></g>
<g id="n861"><circle cx="310" cy="4469.4" r="5.3"/></g>
<g id="n862"><circle cx="210" cy="4408.6" r="5.3"/></g>
<g id="n863"><circle cx="210" cy="4428.9" r="5.3"/></g>
<g id="n864"><circle cx="210" cy="4449.1" r="5.3"/></g>
<g id="n865"><circle cx="210" cy="4469.4" r="5.3"/></g>
<g id="n866"><circle cx="210" cy="4489.7" r="5.3"/></g>
<g id="n867"><circle cx="210" cy="4509.9" r="5.3"/></g>
<g id="n868"><circle cx="243" cy="4408.6" r="5.3"/></g>
<g id="n869"><circle cx="243" cy="4428.9" r="5.3"/></g>
<g id="n870"><circle cx="277" cy="4408.6" r="5.3"/></g>
<g id="n871"><circle cx="277" cy="4428.9" r="5.3"/></g>
<g id="n872"><circle cx="277" cy="4449.1" r="5.3"/></g>
<g id="n873"><circle cx="277" cy="4469.4" r="5.3"/></g>
<g id="n874"><circle cx="277" cy="4489.7" r="5.3"/></g>
<g id="n875"><circle cx="277" cy="4509.9" r="5.3"/></g>
<g id="n876"><circle cx="277" cy="4530.2" r="5.3"/></g>
<g id="n877"><circle cx="277" cy="4550.5" r="5.3"/></g>
<g id="n878"><circle cx="277" cy="4570.8" r="5.3"/></g>
<g id="n879"><circle cx="277" cy="4591" r="5.3"/></g>
<g id="n880"><circle cx="277" cy="4611.3" r="5.3"/></g>
<g id="n881"><circle cx="277" cy="4631.6" r="5.3"/></g>
<g id="n882"><circle cx="202" cy="4530.2" r="5.3"/></g>
<g id="n883"><circle cx="202" cy="4550.5" r="5.3"/></g>
<g id="n884"><circle cx="235" cy="4530.2" r="5.3"/></g>
<g id="n885"><circle cx="235" cy="4550.5" r="5.3"/></g>
<g id="n886"><circle cx="194" cy="4570.8" r="5.3"/></g>
<g id="n887"><circle cx="194" cy="4591" r="5.3"/></g>
<g id="n888"><circle cx="194" cy="4611.3" r="5.3"/></g>
<g id="n889"><circle cx="194" cy="4631.6" r="5.3"/></g>
<g id="n890"><circle cx="194" cy="4651.8" r="5.3"/></g>
<g id="n891"><circle cx="194" cy="4672.1" r="5.3"/></g>
<g id="n892"><circle cx="227" cy="4570.8" r="5.3"/></g>
<g id="n893"><circle cx="227" cy="4591" r="5.3"/></g>
<g id="n894"><circle cx="178" cy="4692.4" r="5.3"/></g>
<g id="n895"><circle cx="178" cy="4712.6" r="5.3"/></g>
<g id="n896"><circle cx="211" cy="4692.4" r="5.3"/></g>
<g id="n897"><circle cx="211" cy="4712.6" r="5.3"/></g>
<g id="n898"><circle cx="194" cy="4732.9" r="5.3"/></g>
<g id="n899"><circle cx="194" cy="4753.2" r="5.3"/></g>
<g id="n900"><circle cx="227" cy="4732.9" r="5.3"/></g>
<g id="n901"><circle cx="227" cy="4753.2" r="5.3"/></g>
<g id="n902"><circle cx="210" cy="4773.5" r="5.3"/></g>
<g id="n903"><circle cx="210" cy="4793.7" r="5.3"/></g>
<g id="n904"><circle cx="210" cy="4814" r="5.3"/></g>
<g id="n905"><circle cx="210" cy="4834.3" r="5.3"/></g>
<g id="n906"><circle cx="210" cy="4854.5" r="5.3"/></g>
<g id="n907"><circle cx="210" cy="4874.8" r="5.3"/></g>
<g id="n908"><circle cx="210" cy="4895.1" r="5.3"/></g>
<g id="n909"><circle cx="210" cy="4915.3" r="5.3"/></g>
<g id="n910"><circle cx="210" cy="4935.6" r="5.3"/></g>
<g id="n911"><circle cx="210" cy="4955.9" r="5.3"/></g>
<g id="n912"><circle cx="243" cy="4773.5" r="5.3"/></g>
<g id="n913"><circle cx="243" cy="4793.7" r="5.3"/></g>
<g id="n914"><circle cx="243" cy="4814" r="5.3"/></g>
<g id="n915"><circle cx="243" cy="4834.3" r="5.3"/></g>
<g id="n916"><circle cx="243" cy="4854.5" r="5.3"/></g>
<g id="n917"><circle cx="243" cy="4874.8" r="5.3"/></g>
<g id="n918"><circle cx="243" cy="4895.1" r="5.3"/></g>
<g id="n919"><circle cx="243" cy="4915.3" r="5.3"/></g>
<g id="n920"><circle cx="243" cy="4935.6" r="5.3"/></g>
<g id="n921"><circle cx="243" cy="4955.9" r="5.3"/></g>
<g id="n922"><circle cx="243" cy="4976.2" r="5.3"/></g>
<g id="n923"><circle cx="243" cy="4996.4" r="5.3"/></g>
<g id="n924"><circle cx="243" cy="5016.7" r="5.3"/></g>
<g id="n925"><circle cx="243" cy="5037" r="5.3"/></g>
<g id="n926"><circle cx="243" cy="5057.2" r="5.3"/></g>
<g id="n927"><circle cx="243" cy="5077.5" r="5.3"/></g>
<g id="n928"><circle cx="177" cy="4814" r="5.3"/></g>
<g id="n929"><circle cx="177" cy="4834.3" r="5.3"/></g>
<g id="n930"><circle cx="177" cy="4935.6" r="5.3"/></g>
<g id="n931"><circle cx="177" cy="4955.9" r="5.3"/></g>
<g id="n932"><circle cx="177" cy="4976.2" r="5.3"/></g>
<g id="n933"><circle cx="177" cy="4996.4" r="5.3"/></g>
<g id="n934"><circle cx="177" cy="5016.7" r="5.3"/></g>
<g id="n935"><circle cx="177" cy="5037" r="5.3"/></g>
<g id="n936"><circle cx="177" cy="5057.2" r="5.3"/></g>
<g id="n937"><circle cx="177" cy="5077.5" r="5.3"/></g>
<g id="n938"><circle cx="177" cy="5097.8" r="5.3"/></g>
<g id="n939"><circle cx="177" cy="5118" r="5.3"/></g>
<g id="n940"><circle cx="177" cy="5138.3" r="5.3"/></g>
<g id="n941"><circle cx="177" cy="5158.6" r="5.3"/></g>
<g id="n942"><circle cx="277" cy="4814" r="5.3"/></g>
<g id="n943"><circle cx="277" cy="4834.3" r="5.3"/></g>
<g id="n944"><circle cx="277" cy="4854.5" r="5.3"/></g>
<g id="n945"><circle cx="277" cy="4874.8" r="5.3"/></g>
<g id="n946"><circle cx="277" cy="4895.1" r="5.3"/></g>
<g id="n947"><circle cx="277" cy="4915.3" r="5.3"/></g>
<g id="n948"><circle cx="277" cy="4935.6" r="5.3"/></g>
<g id="n949"><circle cx="277" cy="4955.9" r="5.3"/></g>
<g id="n950"><circle cx="277" cy="4976.2" r="5.3"/></g>
<g id="n951"><circle cx="277" cy="4996.4" r="5.3"/></g>
<g id="n952"><circle cx="277" cy="5016.7" r="5.3"/></g>
<g id="n953"><circle cx="277" cy="5037" r="5.3"/></g>
<g id="n954"><circle cx="277" cy="5057.2" r="5.3"/></g>
<g id="n955"><circle cx="277" cy="5077.5" r="5.3"/></g>
<g id="n956"><circle cx="277" cy="5097.8" r="5.3"/></g>
<g id="n957"><circle cx="277" cy="5118" r="5.3"/></g>
<g id="n958"><circle cx="277" cy="5138.3" r="5.3"/></g>
<g id="n959"><circle cx="277" cy="5158.6" r="5.3"/></g>
<g id="n960"><circle cx="277" cy="5178.9" r="5.3"/></g>
<g id="n961"><circle cx="277" cy="5199.1" r="5.3"/></g>
<g id="n962"><circle cx="210" cy="5016.7" r="5.3"/></g>
<g id="n963"><circle cx="210" cy="5037" r="5.3"/></g>
<g id="n964"><circle cx="334" cy="5057.2" r="5.3"/></g>
<g id="n965"><circle cx="340" cy="5077.5" r="5.3"/></g>
<g id="n966"><circle cx="353" cy="5097.8" r="5.3"/></g>
<g id="n967"><circle cx="359" cy="5118" r="5.3"/></g>
<g id="n968"><circle cx="359" cy="5138.3" r="5.3"/></g>
<g id="n969"><circle cx="359" cy="5158.6" r="5.3"/></g>
<g id="n970"><circle cx="359" cy="5178.9" r="5.3"/></g>
<g id="n971"><circle cx="359" cy="5199.1" r="5.3"/></g>
<g id="n972"><circle cx="143" cy="4976.2" r="5.3"/></g>
<g id="n973"><circle cx="143" cy="4996.4" r="5.3"/></g>
<g id="n974"><circle cx="143" cy="5016.7" r="5.3"/></g>
<g id="n975"><circle cx="143" cy="5037" r="5.3"/></g>
<g id="n976"><circle cx="143" cy="5057.2" r="5.3"/></g>
<g id="n977"><circle cx="143" cy="5077.5" r="5.3"/></g>
<g id="n978"><circle cx="110" cy="5016.7" r="5.3"/></g>
<g id="n979"><circle cx="110" cy="5037" r="5.3"/></g>
<g id="n980"><circle cx="110" cy="5057.2" r="5.3"/></g>
<g id="n981"><circle cx="110" cy="5077.5" r="5.3"/></g>
<g id="n982"><circle cx="110" cy="5097.8" r="5.3"/></g>
<g id="n983"><circle cx="110" cy="5118" r="5.3"/></g>
<g id="n984"><circle cx="110" cy="5138.3" r="5.3"/></g>
<g id="n985"><circle cx="110" cy="5158.6" r="5.3"/></g>
<g id="n986"><circle cx="110" cy="5178.9" r="5.3"/></g>
<g id="n987"><circle cx="110" cy="5199.1" r="5.3"/></g>
<g id="n988"><circle cx="110" cy="5219.4" r="5.3"/></g>
<g id="n989"><circle cx="110" cy="5239.7" r="5.3"/></g>
<g id="n990"><circle cx="110" cy="5259.9" r="5.3"/></g>
<g id="n991"><circle cx="110" cy="5280.2" r="5.3"/></g>
<g id="n992"><circle cx="110" cy="5300.5" r="5.3"/></g>
<g id="n993"><circle cx="110" cy="5320.7" r="5.3"/></g>
<g id="n994"><circle cx="110" cy="5341" r="5.3"/></g>
<g id="n995"><circle cx="110" cy="5361.3" r="5.3"/></g>
<g id="n996"><circle cx="110" cy="5381.6" r="5.3"/></g>
<g id="n997"><circle cx="110" cy="5401.8" r="5.3"/></g>
<g id="n998"><circle cx="77" cy="5097.8" r="5.3"/></g>
<g id="n999"><circle cx="77" cy="5118" r="5.3"/></g>
<g id="n1000"><circle cx="77" cy="5138.3" r="5.3"/></g>
<g id="n1001"><circle cx="77" cy="5158.6" r="5.3"/></g>
<g id="n1002"><circle cx="77" cy="5178.9" r="5.3"/></g>
<g id="n1003"><circle cx="77" cy="5199.1" r="5.3"/></g>
<g id="n1004"><circle cx="43" cy="5138.3" r="5.3"/></g>
<g id="n1005"><circle cx="43" cy="5158.6" r="5.3"/></g>
<g id="n1006"><circle cx="43" cy="5178.9" r="5.3"/></g>
<g id="n1007"><circle cx="43" cy="5199.1" r="5.3"/></g>
<g id="n1008"><circle cx="43" cy="5219.4" r="5.3"/></g>
<g id="n1009"><circle cx="43" cy="5239.7" r="5.3"/></g>
<g id="n1010"><circle cx="43" cy="5259.9" r="5.3"/></g>
<g id="n1011"><circle cx="43" cy="5280.2" r="5.3"/></g>
<g id="n1012"><circle cx="210" cy="5097.8" r="5.3"/></g>
<g id="n1013"><circle cx="210" cy="5118" r="5.3"/></g>
<g id="n1014"><circle cx="210" cy="5138.3" r="5.3"/></g>
<g id="n1015"><circle cx="210" cy="5158.6" r="5.3"/></g>
<g id="n1016"><circle cx="210" cy="5178.9" r="5.3"/></g>
<g id="n1017"><circle cx="210" cy="5199.1" r="5.3"/></g>
<g id="n1018"><circle cx="210" cy="5219.4" r="5.3"/></g>
<g id="n1019"><circle cx="210" cy="5239.7" r="5.3"/></g>
<g id="n1020"><circle cx="143" cy="5138.3" r="5.3"/></g>
<g id="n1021"><circle cx="143" cy="5158.6" r="5.3"/></g>
<g id="n1022"><circle cx="143" cy="5178.9" r="5.3"/></g>
<g id="n1023"><circle cx="143" cy="5199.1" r="5.3"/></g>
<g id="n1024"><circle cx="143" cy="5219.4" r="5.3"/></g>
<g id="n1025"><circle cx="143" cy="5239.7" r="5.3"/></g>
<g id="n1026"><circle cx="143" cy="5259.9" r="5.3"/></g>
<g id="n1027"><circle cx="143" cy="5280.2" r="5.3"/></g>
<g id="n1028"><circle cx="143" cy="5300.5" r="5.3"/></g>
<g id="n1029"><circle cx="143" cy="5320.7" r="5.3"/></g>
<g id="n1030"><circle cx="143" cy="5341" r="5.3"/></g>
<g id="n1031"><circle cx="143" cy="5361.3" r="5.3"/></g>
<g id="n1032"><circle cx="143" cy="5381.6" r="5.3"/></g>
<g id="n1033"><circle cx="143" cy="5401.8" r="5.3"/></g>
<g id="n1034"><circle cx="102" cy="5422.1" r="5.3"/></g>
<g id="n1035"><circle cx="102" cy="5442.4" r="5.3"/></g>
<g id="n1036"><circle cx="101" cy="5462.6" r="5.3"/></g>
<g id="n1037"><circle cx="98" cy="5482.9" r="5.3"/></g>
<g id="n1038"><circle cx="93" cy="5503.2" r="5.3"/></g>
<g id="n1039"><circle cx="93" cy="5523.4" r="5.3"/></g>
<g id="n1040"><circle cx="93" cy="5543.7" r="5.3"/></g>
<g id="n1041"><circle cx="93" cy="5564" r="5.3"/></g>
<g id="n1042"><circle cx="93" cy="5584.3" r="5.3"/></g>
<g id="n1043"><circle cx="93" cy="5604.5" r="5.3"/></g>
<g id="n1044"><circle cx="93" cy="5624.8" r="5.3"/></g>
<g id="n1045"><circle cx="93" cy="5645.1" r="5.3"/></g>
<g id="n1046"><circle cx="93" cy="5665.3" r="5.3"/></g>
<g id="n1047"><circle cx="93" cy="5685.6" r="5.3"/></g>
<g id="n1048"><circle cx="177" cy="5300.5" r="5.3"/></g>
<g id="n1049"><circle cx="177" cy="5320.7" r="5.3"/></g>
<g id="n1050"><circle cx="177" cy="5341" r="5.3"/></g>
<g id="n1051"><circle cx="177" cy="5361.3" r="5.3"/></g>
<g id="n1052"><circle cx="226" cy="5381.6" r="5.3"/></g>
<g id="n1053"><circle cx="247" cy="5401.8" r="5.3"/></g>
<g id="n1054"><circle cx="247" cy="5422.1" r="5.3"/></g>
<g id="n1055"><circle cx="249" cy="5442.4" r="5.3"/></g>
<g id="n1056"><circle cx="210" cy="5341" r="5.3"/></g>
<g id="n1057"><circle cx="210" cy="5361.3" r="5.3"/></g>
<g id="n1058"><circle cx="226" cy="5462.6" r="5.3"/></g>
<g id="n1059"><circle cx="226" cy="5482.9" r="5.3"/></g>
<g id="n1060"><circle cx="226" cy="5503.2" r="5.3"/></g>
<g id="n1061"><circle cx="226" cy="5523.4" r="5.3"/></g>
<g id="n1062"><circle cx="226" cy="5543.7" r="5.3"/></g>
<g id="n1063"><circle cx="226" cy="5564" r="5.3"/></g>
<g id="n1064"><circle cx="226" cy="5584.3" r="5.3"/></g>
<g id="n1065"><circle cx="226" cy="5604.5" r="5.3"/></g>
<g id="n1066"><circle cx="226" cy="5624.8" r="5.3"/></g>
<g id="n1067"><circle cx="226" cy="5645.1" r="5.3"/></g>
<g id="n1068"><circle cx="226" cy="5665.3" r="5.3"/></g>
<g id="n1069"><circle cx="226" cy="5685.6" r="5.3"/></g>
<g id="n1070"><circle cx="259" cy="5462.6" r="5.3"/></g>
<g id="n1071"><circle cx="259" cy="5482.9" r="5.3"/></g>
<g id="n1072"><circle cx="259" cy="5503.2" r="5.3"/></g>
<g id="n1073"><circle cx="259" cy="5523.4" r="5.3"/></g>
<g id="n1074"><circle cx="259" cy="5543.7" r="5.3"/></g>
<g id="n1075"><circle cx="259" cy="5564" r="5.3"/></g>
<g id="n1076"><circle cx="259" cy="5584.3" r="5.3"/></g>
<g id="n1077"><circle cx="259" cy="5604.5" r="5.3"/></g>
<g id="n1078"><circle cx="259" cy="5624.8" r="5.3"/></g>
<g id="n1079"><circle cx="259" cy="5645.1" r="5.3"/></g>
<g id="n1080"><circle cx="259" cy="5665.3" r="5.3"/></g>
<g id="n1081"><circle cx="259" cy="5685.6" r="5.3"/></g>
<g id="n1082"><circle cx="259" cy="5705.9" r="5.3"/></g>
<g id="n1083"><circle cx="259" cy="5726.1" r="5.3"/></g>
<g id="n1084"><circle cx="293" cy="5462.6" r="5.3"/></g>
<g id="n1085"><circle cx="293" cy="5482.9" r="5.3"/></g>
<g id="n1086"><circle cx="193" cy="5543.7" r="5.3"/></g>
<g id="n1087"><circle cx="193" cy="5564" r="5.3"/></g>
<g id="n1088"><circle cx="193" cy="5584.3" r="5.3"/></g>
<g id="n1089"><circle cx="193" cy="5604.5" r="5.3"/></g>
<g id="n1090"><circle cx="193" cy="5624.8" r="5.3"/></g>
<g id="n1091"><circle cx="193" cy="5645.1" r="5.3"/></g>
<g id="n1092"><circle cx="243" cy="5138.3" r="5.3"/></g>
<g id="n1093"><circle cx="243" cy="5158.6" r="5.3"/></g>
<g id="n1094"><circle cx="243" cy="5178.9" r="5.3"/></g>
<g id="n1095"><circle cx="243" cy="5199.1" r="5.3"/></g>
<g id="n1096"><circle cx="310" cy="5178.9" r="5.3"/></g>
<g id="n1097"><circle cx="310" cy="5199.1" r="5.3"/></g>
<g id="n1098"><circle cx="310" cy="5219.4" r="5.3"/></g>
<g id="n1099"><circle cx="310" cy="5239.7" r="5.3"/></g>
<g id="n1100"><circle cx="310" cy="5259.9" r="5.3"/></g>
<g id="n1101"><circle cx="310" cy="5280.2" r="5.3"/></g>
<g id="n1102"><circle cx="310" cy="5300.5" r="5.3"/></g>
<g id="n1103"><circle cx="310" cy="5320.7" r="5.3"/></g>
<g id="n1104"><circle cx="310" cy="5341" r="5.3"/></g>
<g id="n1105"><circle cx="310" cy="5361.3" r="5.3"/></g>
<g id="n1106"><circle cx="310" cy="5381.6" r="5.3"/></g>
<g id="n1107"><circle cx="310" cy="5401.8" r="5.3"/></g>
<g id="n1108"><circle cx="243" cy="5219.4" r="5.3"/></g>
<g id="n1109"><circle cx="243" cy="5239.7" r="5.3"/></g>
<g id="n1110"><circle cx="243" cy="5259.9" r="5.3"/></g>
<g id="n1111"><circle cx="243" cy="5280.2" r="5.3"/></g>
<g id="n1112"><circle cx="243" cy="5300.5" r="5.3"/></g>
<g id="n1113"><circle cx="243" cy="5320.7" r="5.3"/></g>
<g id="n1114"><circle cx="243" cy="5341" r="5.3"/></g>
<g id="n1115"><circle cx="243" cy="5361.3" r="5.3"/></g>
<g id="n1116"><circle cx="277" cy="5341" r="5.3"/></g>
<g id="n1117"><circle cx="277" cy="5361.3" r="5.3"/></g>
<g id="n1118"><circle cx="277" cy="5219.4" r="5.3"/></g>
<g id="n1119"><circle cx="277" cy="5239.7" r="5.3"/></g>
<g id="n1120"><circle cx="343" cy="5341" r="5.3"/></g>
<g id="n1121"><circle cx="343" cy="5361.3" r="5.3"/></g>
<g id="n1122"><circle cx="394" cy="5138.3" r="5.3"/></g>
<g id="n1123"><circle cx="398" cy="5158.6" r="5.3"/></g>
<g id="n1124"><circle cx="406" cy="5178.9" r="5.3"/></g>
<g id="n1125"><circle cx="410" cy="5199.1" r="5.3"/></g>
<g id="n1126"><circle cx="410" cy="5219.4" r="5.3"/></g>
<g id="n1127"><circle cx="410" cy="5239.7" r="5.3"/></g>
<g id="n1128"><circle cx="410" cy="5259.9" r="5.3"/></g>
<g id="n1129"><circle cx="410" cy="5280.2" r="5.3"/></g>
<g id="n1130"><circle cx="343" cy="5219.4" r="5.3"/></g>
<g id="n1131"><circle cx="343" cy="5239.7" r="5.3"/></g>
<g id="n1132"><circle cx="343" cy="5259.9" r="5.3"/></g>
<g id="n1133"><circle cx="343" cy="5280.2" r="5.3"/></g>
<g id="n1134"><circle cx="377" cy="5219.4" r="5.3"/></g>
<g id="n1135"><circle cx="377" cy="5239.7" r="5.3"/></g>
<g id="n1136"><circle cx="377" cy="5259.9" r="5.3"/></g>
<g id="n1137"><circle cx="377" cy="5280.2" r="5.3"/></g>
<g id="n1138"><circle cx="443" cy="5259.9" r="5.3"/></g>
<g id="n1139"><circle cx="443" cy="5280.2" r="5.3"/></g>
<g id="n1140"><circle cx="443" cy="5300.5" r="5.3"/></g>
<g id="n1141"><circle cx="443" cy="5320.7" r="5.3"/></g>
<g id="n1142"><circle cx="443" cy="5341" r="5.3"/></g>
<g id="n1143"><circle cx="443" cy="5361.3" r="5.3"/></g>
<g id="n1144"><circle cx="443" cy="5381.6" r="5.3"/></g>
<g id="n1145"><circle cx="443" cy="5401.8" r="5.3"/></g>
<g id="n1146"><circle cx="443" cy="5422.1" r="5.3"/></g>
<g id="n1147"><circle cx="443" cy="5442.4" r="5.3"/></g>
<g id="n1148"><circle cx="410" cy="5462.6" r="5.3"/></g>
<g id="n1149"><circle cx="410" cy="5482.9" r="5.3"/></g>
<g id="n1150"><circle cx="443" cy="5462.6" r="5.3"/></g>
<g id="n1151"><circle cx="443" cy="5482.9" r="5.3"/></g>
<g id="n1152"><circle cx="477" cy="5462.6" r="5.3"/></g>
<g id="n1153"><circle cx="477" cy="5482.9" r="5.3"/></g>
<g id="n1154"><circle cx="459" cy="5503.2" r="5.3"/></g>
<g id="n1155"><circle cx="459" cy="5523.4" r="5.3"/></g>
<g id="n1156"><circle cx="493" cy="5503.2" r="5.3"/></g>
<g id="n1157"><circle cx="493" cy="5523.4" r="5.3"/></g>
<g id="n1158"><circle cx="442" cy="5543.7" r="5.3"/></g>
<g id="n1159"><circle cx="442" cy="5564" r="5.3"/></g>
<g id="n1160"><circle cx="475" cy="5543.7" r="5.3"/></g>
<g id="n1161"><circle cx="475" cy="5564" r="5.3"/></g>
<g id="n1162"><circle cx="475" cy="5584.3" r="5.3"/></g>
<g id="n1163"><circle cx="475" cy="5604.5" r="5.3"/></g>
<g id="n1164"><circle cx="475" cy="5624.8" r="5.3"/></g>
<g id="n1165"><circle cx="475" cy="5645.1" r="5.3"/></g>
<g id="n1166"><circle cx="475" cy="5665.3" r="5.3"/></g>
<g id="n1167"><circle cx="475" cy="5685.6" r="5.3"/></g>
<g id="n1168"><circle cx="475" cy="5705.9" r="5.3"/></g>
<g id="n1169"><circle cx="475" cy="5726.1" r="5.3"/></g>
<g id="n1170"><circle cx="59" cy="5584.3" r="5.3"/></g>
<g id="n1171"><circle cx="59" cy="5604.5" r="5.3"/></g>
<g id="n1172"><circle cx="43" cy="5624.8" r="5.3"/></g>
<g id="n1173"><circle cx="43" cy="5645.1" r="5.3"/></g>
<g id="n1174"><circle cx="43" cy="5665.3" r="5.3"/></g>
<g id="n1175"><circle cx="43" cy="5685.6" r="5.3"/></g>
<g id="n1176"><circle cx="10" cy="5665.3" r="5.3"/></g>
<g id="n1177"><circle cx="10" cy="5685.6" r="5.3"/></g>
<g id="n1178"><circle cx="26" cy="5705.9" r="5.3"/></g>
<g id="n1179"><circle cx="26" cy="5726.1" r="5.3"/></g>
<g id="n1180"><circle cx="59" cy="5705.9" r="5.3"/></g>
<g id="n1181"><circle cx="59" cy="5726.1" r="5.3"/></g>
<g id="n1182"><circle cx="59" cy="5746.4" r="5.3"/></g>
<g id="n1183"><circle cx="59" cy="5766.7" r="5.3"/></g>
<g id="n1184"><circle cx="59" cy="5787" r="5.3"/></g>
<g id="n1185"><circle cx="59" cy="5807.2" r="5.3"/></g>
<g id="n1186"><circle cx="93" cy="5705.9" r="5.3"/></g>
<g id="n1187"><circle cx="93" cy="5726.1" r="5.3"/></g>
<g id="n1188"><circle cx="126" cy="5705.9" r="5.3"/></g>
<g id="n1189"><circle cx="126" cy="5726.1" r="5.3"/></g>
<g id="n1190"><circle cx="126" cy="5746.4" r="5.3"/></g>
<g id="n1191"><circle cx="126" cy="5766.7" r="5.3"/></g>
<g id="n1192"><circle cx="93" cy="5746.4" r="5.3"/></g>
<g id="n1193"><circle cx="93" cy="5766.7" r="5.3"/></g>
<g id="n1194"><circle cx="93" cy="5787" r="5.3"/></g>
<g id="n1195"><circle cx="93" cy="5807.2" r="5.3"/></g>
<g id="n1196"><circle cx="43" cy="5827.5" r="5.3"/></g>
<g id="n1197"><circle cx="43" cy="5847.8" r="5.3"/></g>
<g id="n1198"><circle cx="77" cy="5827.5" r="5.3"/></g>
<g id="n1199"><circle cx="77" cy="5847.8" r="5.3"/></g>
<g id="n1200"><circle cx="27" cy="5868" r="5.3"/></g>
<g id="n1201"><circle cx="27" cy="5888.3" r="5.3"/></g>
<g id="n1202"><circle cx="61" cy="5868" r="5.3"/></g>
<g id="n1203"><circle cx="61" cy="5888.3" r="5.3"/></g>
<g id="n1204"><circle cx="11" cy="5908.6" r="5.3"/></g>
<g id="n1205"><circle cx="11" cy="5928.8" r="5.3"/></g>
<g id="n1206"><circle cx="45" cy="5908.6" r="5.3"/></g>
<g id="n1207"><circle cx="45" cy="5928.8" r="5.3"/></g>
<g id="n1208"><circle cx="45" cy="5949.1" r="5.3"/></g>
<g id="n1209"><circle cx="45" cy="5969.4" r="5.3"/></g>
<g id="n1210"><circle cx="45" cy="5989.7" r="5.3"/></g>
<g id="n1211"><circle cx="45" cy="6009.9" r="5.3"/></g>
<g id="n1212"><circle cx="29" cy="6030.2" r="5.3"/></g>
<g id="n1213"><circle cx="29" cy="6050.5" r="5.3"/></g>
<g id="n1214"><circle cx="29" cy="6070.7" r="5.3"/></g>
<g id="n1215"><circle cx="29" cy="6091" r="5.3"/></g>
<g id="n1216"><circle cx="62" cy="6030.2" r="5.3"/></g>
<g id="n1217"><circle cx="62" cy="6050.5" r="5.3"/></g>
<g id="n1218"><circle cx="159" cy="5584.3" r="5.3"/></g>
<g id="n1219"><circle cx="159" cy="5604.5" r="5.3"/></g>
<g id="n1220"><circle cx="159" cy="5624.8" r="5.3"/></g>
<g id="n1221"><circle cx="159" cy="5645.1" r="5.3"/></g>
<g id="n1222"><circle cx="159" cy="5665.3" r="5.3"/></g>
<g id="n1223"><circle cx="159" cy="5685.6" r="5.3"/></g>
<g id="n1224"><circle cx="159" cy="5705.9" r="5.3"/></g>
<g id="n1225"><circle cx="159" cy="5726.1" r="5.3"/></g>
<g id="n1226"><circle cx="159" cy="5746.4" r="5.3"/></g>
<g id="n1227"><circle cx="159" cy="5766.7" r="5.3"/></g>
<g id="n1228"><circle cx="159" cy="5787" r="5.3"/></g>
<g id="n1229"><circle cx="159" cy="5807.2" r="5.3"/></g>
<g id="n1230"><circle cx="159" cy="5827.5" r="5.3"/></g>
<g id="n1231"><circle cx="159" cy="5847.8" r="5.3"/></g>
<g id="n1232"><circle cx="193" cy="5665.3" r="5.3"/></g>
<g id="n1233"><circle cx="193" cy="5685.6" r="5.3"/></g>
<g id="n1234"><circle cx="442" cy="5584.3" r="5.3"/></g>
<g id="n1235"><circle cx="442" cy="5604.5" r="5.3"/></g>
<g id="n1236"><circle cx="442" cy="5624.8" r="5.3"/></g>
<g id="n1237"><circle cx="442" cy="5645.1" r="5.3"/></g>
<g id="n1238"><circle cx="442" cy="5665.3" r="5.3"/></g>
<g id="n1239"><circle cx="442" cy="5685.6" r="5.3"/></g>
<g id="n1240"><circle cx="509" cy="5584.3" r="5.3"/></g>
<g id="n1241"><circle cx="509" cy="5604.5" r="5.3"/></g>
<g id="n1242"><circle cx="509" cy="5624.8" r="5.3"/></g>
<g id="n1243"><circle cx="509" cy="5645.1" r="5.3"/></g>
<g id="n1244"><circle cx="509" cy="5665.3" r="5.3"/></g>
<g id="n1245"><circle cx="509" cy="5685.6" r="5.3"/></g>
<g id="n1246"><circle cx="509" cy="5705.9" r="5.3"/></g>
<g id="n1247"><circle cx="509" cy="5726.1" r="5.3"/></g>
<g id="n1248"><circle cx="509" cy="5746.4" r="5.3"/></g>
<g id="n1249"><circle cx="509" cy="5766.7" r="5.3"/></g>
</g>
</svg>
